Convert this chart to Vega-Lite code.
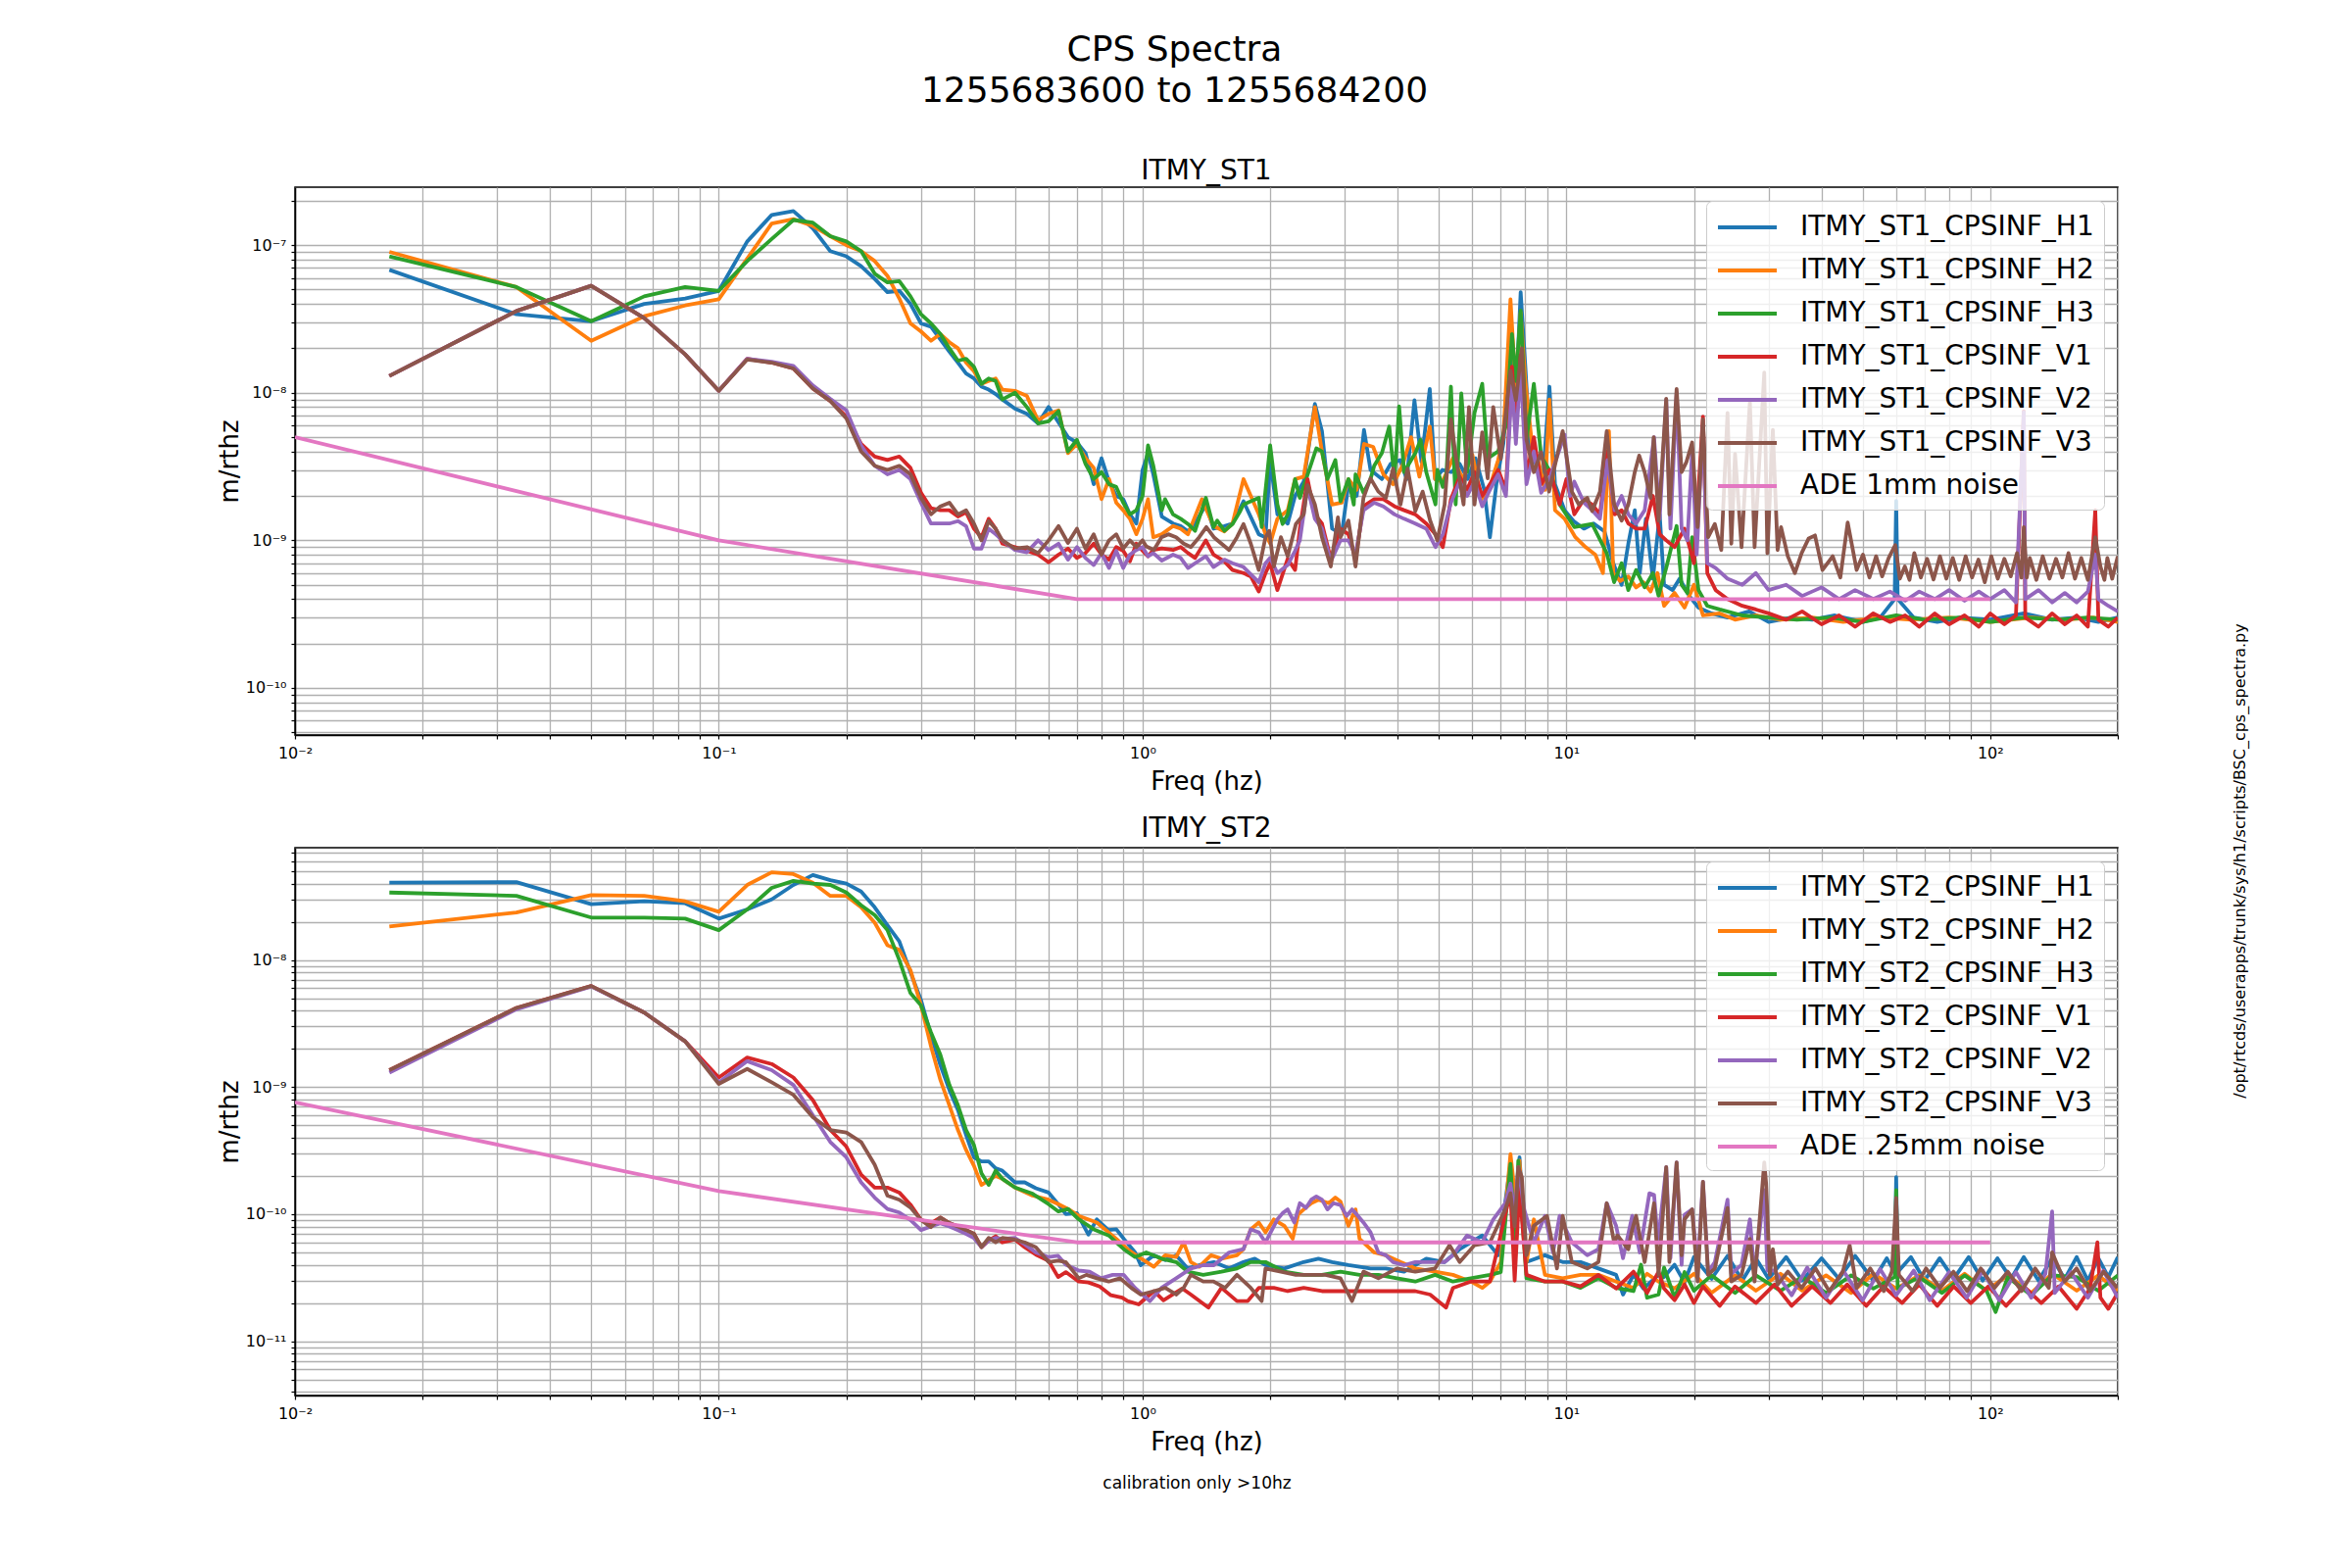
{
"$schema":"https://vega.github.io/schema/vega-lite/v6.json",
"background":"white",
"padding":{"left":220,"top":33,"right":10,"bottom":10},
"config":{
 "font":"DejaVu Sans",
 "view":{"stroke":"black","strokeWidth":1.5},
 "axis":{"domainColor":"black","domainWidth":1.5,"tickColor":"black","tickSize":4,"tickWidth":1.2,"labelColor":"black","labelFontSize":16,"labelFont":"DejaVu Sans","titleFont":"DejaVu Sans","titleFontSize":26,"titleFontWeight":"normal","titleColor":"black","gridColor":"#b0b0b0","gridWidth":1.3,"gridOpacity":1,"labelOverlap":false},
 "legend":{"orient":"top-right","offset":14,"labelFontSize":28,"labelFont":"DejaVu Sans","labelColor":"black","labelLimit":0,"symbolType":"M-1,0H3","symbolSize":900,"symbolStrokeWidth":4,"rowPadding":13,"labelOffset":52,"padding":10,"fillColor":"rgba(255,255,255,0.8)","strokeColor":"#cccccc","cornerRadius":6},
 "title":{"font":"DejaVu Sans","fontWeight":"normal","color":"black"}
},
"title":{"text":["CPS Spectra","1255683600 to 1255684200"],"fontSize":36,"lineHeight":42,"anchor":"middle","offset":48,"dx":-59},
"datasets":{
"st1":[
{"s":"H1","f":0.0167,"v":6.8e-8},{"s":"H1","f":0.0333,"v":3.4e-8},{"s":"H1","f":0.05,"v":3.05e-8},{"s":"H1","f":0.0667,"v":4.0e-8},{"s":"H1","f":0.0833,"v":4.35e-8},{"s":"H1","f":0.1,"v":4.9e-8},{"s":"H1","f":0.1167,"v":1.06e-7},{"s":"H1","f":0.1333,"v":1.6e-7},{"s":"H1","f":0.15,"v":1.7e-7},{"s":"H1","f":0.1667,"v":1.3e-7},{"s":"H1","f":0.1833,"v":9.1e-8},{"s":"H1","f":0.2,"v":8.4e-8},{"s":"H1","f":0.2167,"v":7.2e-8},{"s":"H1","f":0.2333,"v":5.9e-8},{"s":"H1","f":0.25,"v":4.8e-8},{"s":"H1","f":0.2667,"v":4.9e-8},{"s":"H1","f":0.2833,"v":4.0e-8},{"s":"H1","f":0.3,"v":2.95e-8},{"s":"H1","f":0.3167,"v":2.8e-8},{"s":"H1","f":0.3333,"v":2.3e-8},{"s":"H1","f":0.35,"v":1.9e-8},{"s":"H1","f":0.3667,"v":1.6e-8},{"s":"H1","f":0.3833,"v":1.35e-8},{"s":"H1","f":0.4,"v":1.25e-8},{"s":"H1","f":0.4167,"v":1.1e-8},{"s":"H1","f":0.4333,"v":1.05e-8},{"s":"H1","f":0.45,"v":9.8e-9},{"s":"H1","f":0.4667,"v":9.0e-9},{"s":"H1","f":0.5,"v":7.8e-9},{"s":"H1","f":0.5333,"v":7.2e-9},{"s":"H1","f":0.5667,"v":6.2e-9},{"s":"H1","f":0.6,"v":8.0e-9},{"s":"H1","f":0.6333,"v":6.3e-9},{"s":"H1","f":0.6667,"v":5.0e-9},{"s":"H1","f":0.7,"v":4.6e-9},{"s":"H1","f":0.7333,"v":3.9e-9},{"s":"H1","f":0.7667,"v":2.4e-9},{"s":"H1","f":0.8,"v":3.6e-9},{"s":"H1","f":0.8333,"v":2.5e-9},{"s":"H1","f":0.8667,"v":2.0e-9},{"s":"H1","f":0.9,"v":1.9e-9},{"s":"H1","f":0.9333,"v":1.5e-9},{"s":"H1","f":0.9667,"v":1.3e-9},{"s":"H1","f":1.0,"v":3.0e-9},{"s":"H1","f":1.03,"v":3.9e-9},{"s":"H1","f":1.06,"v":2.8e-9},{"s":"H1","f":1.11,"v":1.45e-9},{"s":"H1","f":1.18,"v":1.3e-9},{"s":"H1","f":1.23,"v":1.25e-9},{"s":"H1","f":1.28,"v":1.15e-9},{"s":"H1","f":1.33,"v":1.3e-9},{"s":"H1","f":1.41,"v":1.75e-9},{"s":"H1","f":1.47,"v":1.2e-9},{"s":"H1","f":1.56,"v":1.25e-9},{"s":"H1","f":1.63,"v":1.3e-9},{"s":"H1","f":1.73,"v":1.84e-9},{"s":"H1","f":1.88,"v":1.1e-9},{"s":"H1","f":1.95,"v":1.05e-9},{"s":"H1","f":2.0,"v":3.5e-9},{"s":"H1","f":2.08,"v":1.5e-9},{"s":"H1","f":2.2,"v":1.3e-9},{"s":"H1","f":2.29,"v":2.0e-9},{"s":"H1","f":2.4,"v":2.5e-9},{"s":"H1","f":2.55,"v":8.4e-9},{"s":"H1","f":2.65,"v":5.5e-9},{"s":"H1","f":2.8,"v":1.2e-9},{"s":"H1","f":2.95,"v":1.1e-9},{"s":"H1","f":3.06,"v":2.4e-9},{"s":"H1","f":3.2,"v":2.0e-9},{"s":"H1","f":3.33,"v":5.6e-9},{"s":"H1","f":3.45,"v":3.0e-9},{"s":"H1","f":3.67,"v":2.6e-9},{"s":"H1","f":3.85,"v":3.3e-9},{"s":"H1","f":4.05,"v":3.5e-9},{"s":"H1","f":4.2,"v":2.6e-9},{"s":"H1","f":4.38,"v":8.9e-9},{"s":"H1","f":4.55,"v":3.4e-9},{"s":"H1","f":4.76,"v":1.06e-8},{"s":"H1","f":4.9,"v":2.6e-9},{"s":"H1","f":5.1,"v":3.0e-9},{"s":"H1","f":5.35,"v":2.9e-9},{"s":"H1","f":5.6,"v":3.3e-9},{"s":"H1","f":5.85,"v":2.6e-9},{"s":"H1","f":6.1,"v":3.6e-9},{"s":"H1","f":6.4,"v":2.2e-9},{"s":"H1","f":6.6,"v":1.05e-9},{"s":"H1","f":6.86,"v":2.6e-9},{"s":"H1","f":7.1,"v":4.5e-9},{"s":"H1","f":7.4,"v":2.0e-8},{"s":"H1","f":7.6,"v":9.0e-9},{"s":"H1","f":7.8,"v":4.8e-8},{"s":"H1","f":8.0,"v":1.5e-8},{"s":"H1","f":8.2,"v":4.5e-9},{"s":"H1","f":8.5,"v":3.2e-9},{"s":"H1","f":8.8,"v":2.6e-9},{"s":"H1","f":9.12,"v":1.1e-8},{"s":"H1","f":9.4,"v":2.4e-9},{"s":"H1","f":9.9,"v":1.6e-9},{"s":"H1","f":10.4,"v":1.35e-9},{"s":"H1","f":11.0,"v":1.2e-9},{"s":"H1","f":11.6,"v":1.3e-9},{"s":"H1","f":12.3,"v":1.15e-9},{"s":"H1","f":12.9,"v":7.0e-10},{"s":"H1","f":13.5,"v":5.0e-10},{"s":"H1","f":14.0,"v":9.5e-10},{"s":"H1","f":14.5,"v":1.6e-9},{"s":"H1","f":14.9,"v":6.0e-10},{"s":"H1","f":15.4,"v":1.4e-9},{"s":"H1","f":16.0,"v":5.5e-10},{"s":"H1","f":16.6,"v":1.5e-9},{"s":"H1","f":17.0,"v":5.0e-10},{"s":"H1","f":17.8,"v":4.6e-10},{"s":"H1","f":18.5,"v":5.5e-10},{"s":"H1","f":19.5,"v":4.2e-10},{"s":"H1","f":20.5,"v":3.5e-10},{"s":"H1","f":22,"v":3.2e-10},{"s":"H1","f":24,"v":3.0e-10},{"s":"H1","f":27,"v":3.3e-10},{"s":"H1","f":30,"v":2.8e-10},{"s":"H1","f":34,"v":3.0e-10},{"s":"H1","f":38,"v":2.9e-10},{"s":"H1","f":43,"v":3.1e-10},{"s":"H1","f":50,"v":2.8e-10},{"s":"H1","f":55,"v":3.0e-10},{"s":"H1","f":59.5,"v":4.0e-10},{"s":"H1","f":60,"v":1.85e-9},{"s":"H1","f":60.5,"v":4.0e-10},{"s":"H1","f":66,"v":3.0e-10},{"s":"H1","f":75,"v":2.8e-10},{"s":"H1","f":85,"v":3.0e-10},{"s":"H1","f":100,"v":2.9e-10},{"s":"H1","f":120,"v":3.2e-10},{"s":"H1","f":140,"v":2.9e-10},{"s":"H1","f":160,"v":3.0e-10},{"s":"H1","f":180,"v":2.8e-10},{"s":"H1","f":200,"v":3.0e-10},
{"s":"H2","f":0.0167,"v":9.0e-8},{"s":"H2","f":0.0333,"v":5.2e-8},{"s":"H2","f":0.05,"v":2.25e-8},{"s":"H2","f":0.0667,"v":3.3e-8},{"s":"H2","f":0.0833,"v":3.9e-8},{"s":"H2","f":0.1,"v":4.3e-8},{"s":"H2","f":0.1167,"v":8.1e-8},{"s":"H2","f":0.1333,"v":1.4e-7},{"s":"H2","f":0.15,"v":1.5e-7},{"s":"H2","f":0.1667,"v":1.35e-7},{"s":"H2","f":0.1833,"v":1.15e-7},{"s":"H2","f":0.2,"v":1.0e-7},{"s":"H2","f":0.2167,"v":9.1e-8},{"s":"H2","f":0.2333,"v":7.8e-8},{"s":"H2","f":0.25,"v":6.2e-8},{"s":"H2","f":0.2667,"v":4.35e-8},{"s":"H2","f":0.2833,"v":2.95e-8},{"s":"H2","f":0.3,"v":2.6e-8},{"s":"H2","f":0.3167,"v":2.25e-8},{"s":"H2","f":0.3333,"v":2.5e-8},{"s":"H2","f":0.35,"v":2.2e-8},{"s":"H2","f":0.3667,"v":2.0e-8},{"s":"H2","f":0.3833,"v":1.6e-8},{"s":"H2","f":0.4,"v":1.4e-8},{"s":"H2","f":0.4167,"v":1.15e-8},{"s":"H2","f":0.4333,"v":1.2e-8},{"s":"H2","f":0.45,"v":1.25e-8},{"s":"H2","f":0.4667,"v":1.05e-8},{"s":"H2","f":0.5,"v":1.03e-8},{"s":"H2","f":0.5333,"v":9.5e-9},{"s":"H2","f":0.5667,"v":6.5e-9},{"s":"H2","f":0.6,"v":7.2e-9},{"s":"H2","f":0.6333,"v":7.6e-9},{"s":"H2","f":0.6667,"v":3.9e-9},{"s":"H2","f":0.7,"v":4.5e-9},{"s":"H2","f":0.7333,"v":3.6e-9},{"s":"H2","f":0.7667,"v":3.1e-9},{"s":"H2","f":0.8,"v":1.9e-9},{"s":"H2","f":0.8333,"v":2.6e-9},{"s":"H2","f":0.8667,"v":1.8e-9},{"s":"H2","f":0.9,"v":1.6e-9},{"s":"H2","f":0.9333,"v":1.4e-9},{"s":"H2","f":0.9667,"v":1.1e-9},{"s":"H2","f":1.0,"v":1.4e-9},{"s":"H2","f":1.03,"v":1.9e-9},{"s":"H2","f":1.06,"v":1.05e-9},{"s":"H2","f":1.11,"v":1.1e-9},{"s":"H2","f":1.18,"v":1.25e-9},{"s":"H2","f":1.23,"v":1.2e-9},{"s":"H2","f":1.28,"v":1.1e-9},{"s":"H2","f":1.38,"v":1.9e-9},{"s":"H2","f":1.47,"v":1.25e-9},{"s":"H2","f":1.56,"v":1.15e-9},{"s":"H2","f":1.63,"v":1.3e-9},{"s":"H2","f":1.73,"v":2.6e-9},{"s":"H2","f":1.8,"v":2.0e-9},{"s":"H2","f":1.88,"v":1.5e-9},{"s":"H2","f":1.95,"v":1.1e-9},{"s":"H2","f":2.0,"v":9.5e-10},{"s":"H2","f":2.08,"v":1.4e-9},{"s":"H2","f":2.2,"v":1.6e-9},{"s":"H2","f":2.29,"v":2.6e-9},{"s":"H2","f":2.4,"v":2.7e-9},{"s":"H2","f":2.55,"v":8.0e-9},{"s":"H2","f":2.65,"v":4.0e-9},{"s":"H2","f":2.8,"v":1.75e-9},{"s":"H2","f":2.95,"v":1.8e-9},{"s":"H2","f":3.06,"v":2.6e-9},{"s":"H2","f":3.2,"v":2.2e-9},{"s":"H2","f":3.33,"v":4.5e-9},{"s":"H2","f":3.5,"v":4.3e-9},{"s":"H2","f":3.7,"v":2.8e-9},{"s":"H2","f":3.9,"v":2.4e-9},{"s":"H2","f":4.1,"v":3.2e-9},{"s":"H2","f":4.3,"v":5.0e-9},{"s":"H2","f":4.5,"v":2.7e-9},{"s":"H2","f":4.76,"v":5.9e-9},{"s":"H2","f":4.9,"v":2.6e-9},{"s":"H2","f":5.1,"v":2.5e-9},{"s":"H2","f":5.4,"v":3.6e-9},{"s":"H2","f":5.7,"v":2.6e-9},{"s":"H2","f":6.0,"v":3.8e-9},{"s":"H2","f":6.3,"v":1.9e-9},{"s":"H2","f":6.6,"v":2.3e-9},{"s":"H2","f":6.9,"v":3.5e-9},{"s":"H2","f":7.1,"v":5.0e-9},{"s":"H2","f":7.38,"v":4.3e-8},{"s":"H2","f":7.6,"v":1.0e-8},{"s":"H2","f":7.8,"v":3.5e-8},{"s":"H2","f":8.0,"v":1.2e-8},{"s":"H2","f":8.3,"v":4.4e-9},{"s":"H2","f":8.6,"v":3.4e-9},{"s":"H2","f":8.9,"v":2.2e-9},{"s":"H2","f":9.12,"v":9.0e-9},{"s":"H2","f":9.4,"v":1.6e-9},{"s":"H2","f":9.9,"v":1.4e-9},{"s":"H2","f":10.5,"v":1.05e-9},{"s":"H2","f":11.1,"v":9.0e-10},{"s":"H2","f":11.7,"v":8.0e-10},{"s":"H2","f":12.2,"v":6.0e-10},{"s":"H2","f":12.6,"v":5.5e-9},{"s":"H2","f":12.9,"v":6.0e-10},{"s":"H2","f":13.4,"v":5.3e-10},{"s":"H2","f":14.0,"v":5.7e-10},{"s":"H2","f":14.6,"v":4.8e-10},{"s":"H2","f":15.2,"v":5.2e-10},{"s":"H2","f":15.8,"v":4.5e-10},{"s":"H2","f":16.4,"v":6.0e-10},{"s":"H2","f":17.0,"v":3.6e-10},{"s":"H2","f":18.0,"v":4.4e-10},{"s":"H2","f":19.0,"v":3.5e-10},{"s":"H2","f":20.0,"v":5.0e-10},{"s":"H2","f":21,"v":3.1e-10},{"s":"H2","f":23,"v":3.2e-10},{"s":"H2","f":25,"v":2.9e-10},{"s":"H2","f":28,"v":3.1e-10},{"s":"H2","f":32,"v":2.9e-10},{"s":"H2","f":38,"v":3.0e-10},{"s":"H2","f":45,"v":2.8e-10},{"s":"H2","f":55,"v":3.0e-10},{"s":"H2","f":65,"v":2.9e-10},{"s":"H2","f":80,"v":3.0e-10},{"s":"H2","f":100,"v":2.8e-10},{"s":"H2","f":125,"v":3.0e-10},{"s":"H2","f":150,"v":2.9e-10},{"s":"H2","f":175,"v":3.0e-10},{"s":"H2","f":200,"v":2.8e-10},
{"s":"H3","f":0.0167,"v":8.4e-8},{"s":"H3","f":0.0333,"v":5.2e-8},{"s":"H3","f":0.05,"v":3.05e-8},{"s":"H3","f":0.0667,"v":4.5e-8},{"s":"H3","f":0.0833,"v":5.2e-8},{"s":"H3","f":0.1,"v":4.9e-8},{"s":"H3","f":0.1167,"v":7.8e-8},{"s":"H3","f":0.1333,"v":1.1e-7},{"s":"H3","f":0.15,"v":1.48e-7},{"s":"H3","f":0.1667,"v":1.42e-7},{"s":"H3","f":0.1833,"v":1.15e-7},{"s":"H3","f":0.2,"v":1.06e-7},{"s":"H3","f":0.2167,"v":9.1e-8},{"s":"H3","f":0.2333,"v":6.4e-8},{"s":"H3","f":0.25,"v":5.6e-8},{"s":"H3","f":0.2667,"v":5.7e-8},{"s":"H3","f":0.2833,"v":4.5e-8},{"s":"H3","f":0.3,"v":3.4e-8},{"s":"H3","f":0.3167,"v":2.95e-8},{"s":"H3","f":0.3333,"v":2.5e-8},{"s":"H3","f":0.35,"v":2.0e-8},{"s":"H3","f":0.3667,"v":1.65e-8},{"s":"H3","f":0.3833,"v":1.7e-8},{"s":"H3","f":0.4,"v":1.5e-8},{"s":"H3","f":0.4167,"v":1.15e-8},{"s":"H3","f":0.4333,"v":1.25e-8},{"s":"H3","f":0.45,"v":1.2e-8},{"s":"H3","f":0.4667,"v":9.0e-9},{"s":"H3","f":0.5,"v":1.0e-8},{"s":"H3","f":0.5333,"v":8.0e-9},{"s":"H3","f":0.5667,"v":6.2e-9},{"s":"H3","f":0.6,"v":6.4e-9},{"s":"H3","f":0.6333,"v":7.5e-9},{"s":"H3","f":0.6667,"v":4.0e-9},{"s":"H3","f":0.7,"v":4.8e-9},{"s":"H3","f":0.7333,"v":3.3e-9},{"s":"H3","f":0.7667,"v":2.6e-9},{"s":"H3","f":0.8,"v":2.9e-9},{"s":"H3","f":0.8333,"v":2.4e-9},{"s":"H3","f":0.8667,"v":2.3e-9},{"s":"H3","f":0.9,"v":1.8e-9},{"s":"H3","f":0.9333,"v":1.5e-9},{"s":"H3","f":0.9667,"v":1.6e-9},{"s":"H3","f":1.0,"v":2.0e-9},{"s":"H3","f":1.03,"v":4.4e-9},{"s":"H3","f":1.06,"v":3.2e-9},{"s":"H3","f":1.11,"v":1.6e-9},{"s":"H3","f":1.13,"v":1.9e-9},{"s":"H3","f":1.18,"v":1.5e-9},{"s":"H3","f":1.23,"v":1.4e-9},{"s":"H3","f":1.28,"v":1.29e-9},{"s":"H3","f":1.33,"v":1.16e-9},{"s":"H3","f":1.41,"v":1.94e-9},{"s":"H3","f":1.47,"v":1.23e-9},{"s":"H3","f":1.5,"v":1.36e-9},{"s":"H3","f":1.56,"v":1.16e-9},{"s":"H3","f":1.63,"v":1.29e-9},{"s":"H3","f":1.7,"v":1.58e-9},{"s":"H3","f":1.73,"v":1.75e-9},{"s":"H3","f":1.88,"v":1.94e-9},{"s":"H3","f":1.91,"v":1.23e-9},{"s":"H3","f":2.0,"v":4.4e-9},{"s":"H3","f":2.08,"v":1.75e-9},{"s":"H3","f":2.14,"v":1.29e-9},{"s":"H3","f":2.2,"v":1.5e-9},{"s":"H3","f":2.29,"v":2.6e-9},{"s":"H3","f":2.35,"v":1.94e-9},{"s":"H3","f":2.57,"v":4.2e-9},{"s":"H3","f":2.65,"v":4.0e-9},{"s":"H3","f":2.73,"v":2.6e-9},{"s":"H3","f":2.85,"v":3.5e-9},{"s":"H3","f":2.93,"v":1.84e-9},{"s":"H3","f":3.06,"v":2.6e-9},{"s":"H3","f":3.15,"v":1.75e-9},{"s":"H3","f":3.18,"v":2.8e-9},{"s":"H3","f":3.32,"v":2.1e-9},{"s":"H3","f":3.45,"v":2.6e-9},{"s":"H3","f":3.52,"v":3.2e-9},{"s":"H3","f":3.67,"v":3.9e-9},{"s":"H3","f":3.82,"v":5.9e-9},{"s":"H3","f":3.93,"v":2.6e-9},{"s":"H3","f":4.03,"v":8.1e-9},{"s":"H3","f":4.14,"v":2.9e-9},{"s":"H3","f":4.4,"v":3.9e-9},{"s":"H3","f":4.53,"v":4.8e-9},{"s":"H3","f":4.67,"v":2.9e-9},{"s":"H3","f":4.91,"v":1.75e-9},{"s":"H3","f":4.96,"v":3.0e-9},{"s":"H3","f":5.11,"v":2.3e-9},{"s":"H3","f":5.21,"v":2.8e-9},{"s":"H3","f":5.34,"v":1.1e-8},{"s":"H3","f":5.48,"v":1.75e-9},{"s":"H3","f":5.65,"v":9.9e-9},{"s":"H3","f":5.83,"v":2.9e-9},{"s":"H3","f":6.07,"v":7.3e-9},{"s":"H3","f":6.33,"v":1.15e-8},{"s":"H3","f":6.52,"v":3.6e-9},{"s":"H3","f":6.9,"v":4.0e-9},{"s":"H3","f":7.2,"v":6.0e-9},{"s":"H3","f":7.44,"v":2.5e-8},{"s":"H3","f":7.6,"v":1.2e-8},{"s":"H3","f":7.8,"v":3.6e-8},{"s":"H3","f":8.05,"v":4.8e-9},{"s":"H3","f":8.38,"v":1.15e-8},{"s":"H3","f":8.72,"v":3.7e-9},{"s":"H3","f":9.17,"v":2.9e-9},{"s":"H3","f":9.64,"v":1.75e-9},{"s":"H3","f":10.44,"v":1.23e-9},{"s":"H3","f":11.5,"v":1.29e-9},{"s":"H3","f":12.45,"v":8.2e-10},{"s":"H3","f":12.96,"v":5.2e-10},{"s":"H3","f":13.5,"v":7.0e-10},{"s":"H3","f":14.0,"v":4.6e-10},{"s":"H3","f":14.6,"v":6.3e-10},{"s":"H3","f":15.3,"v":4.8e-10},{"s":"H3","f":16.0,"v":6.0e-10},{"s":"H3","f":16.5,"v":4.2e-10},{"s":"H3","f":17.2,"v":6.5e-10},{"s":"H3","f":18.2,"v":1.25e-9},{"s":"H3","f":18.7,"v":5.0e-10},{"s":"H3","f":19.3,"v":4.4e-10},{"s":"H3","f":19.8,"v":1.05e-9},{"s":"H3","f":20.5,"v":4.6e-10},{"s":"H3","f":21.5,"v":3.6e-10},{"s":"H3","f":23,"v":3.4e-10},{"s":"H3","f":26,"v":3.1e-10},{"s":"H3","f":30,"v":3.0e-10},{"s":"H3","f":35,"v":2.9e-10},{"s":"H3","f":42,"v":3.0e-10},{"s":"H3","f":50,"v":2.8e-10},{"s":"H3","f":60,"v":3.1e-10},{"s":"H3","f":70,"v":2.9e-10},{"s":"H3","f":85,"v":3.0e-10},{"s":"H3","f":100,"v":2.8e-10},{"s":"H3","f":120,"v":3.0e-10},{"s":"H3","f":145,"v":2.9e-10},{"s":"H3","f":170,"v":3.0e-10},{"s":"H3","f":200,"v":2.9e-10},
{"s":"V1","f":0.0167,"v":1.3e-8},{"s":"V1","f":0.0333,"v":3.58e-8},{"s":"V1","f":0.05,"v":5.3e-8},{"s":"V1","f":0.0667,"v":3.2e-8},{"s":"V1","f":0.0833,"v":1.82e-8},{"s":"V1","f":0.1,"v":1.03e-8},{"s":"V1","f":0.1167,"v":1.7e-8},{"s":"V1","f":0.1333,"v":1.6e-8},{"s":"V1","f":0.15,"v":1.46e-8},{"s":"V1","f":0.1667,"v":1.07e-8},{"s":"V1","f":0.1833,"v":8.8e-9},{"s":"V1","f":0.2,"v":6.9e-9},{"s":"V1","f":0.2167,"v":4.5e-9},{"s":"V1","f":0.2333,"v":3.7e-9},{"s":"V1","f":0.25,"v":3.5e-9},{"s":"V1","f":0.2667,"v":3.7e-9},{"s":"V1","f":0.2833,"v":3.1e-9},{"s":"V1","f":0.3,"v":2.1e-9},{"s":"V1","f":0.3167,"v":1.65e-9},{"s":"V1","f":0.3333,"v":1.6e-9},{"s":"V1","f":0.35,"v":1.6e-9},{"s":"V1","f":0.3667,"v":1.45e-9},{"s":"V1","f":0.3833,"v":1.55e-9},{"s":"V1","f":0.4,"v":1.2e-9},{"s":"V1","f":0.4167,"v":1.05e-9},{"s":"V1","f":0.4333,"v":1.4e-9},{"s":"V1","f":0.45,"v":1.2e-9},{"s":"V1","f":0.4667,"v":9.5e-10},{"s":"V1","f":0.5,"v":9.0e-10},{"s":"V1","f":0.5333,"v":8.5e-10},{"s":"V1","f":0.5667,"v":8.0e-10},{"s":"V1","f":0.6,"v":7.1e-10},{"s":"V1","f":0.6333,"v":8.0e-10},{"s":"V1","f":0.6667,"v":8.8e-10},{"s":"V1","f":0.7,"v":7.6e-10},{"s":"V1","f":0.7333,"v":8.2e-10},{"s":"V1","f":0.7667,"v":9.5e-10},{"s":"V1","f":0.8,"v":8.0e-10},{"s":"V1","f":0.8333,"v":7.4e-10},{"s":"V1","f":0.8667,"v":9.0e-10},{"s":"V1","f":0.9,"v":8.5e-10},{"s":"V1","f":0.9333,"v":7.2e-10},{"s":"V1","f":0.9667,"v":9.5e-10},{"s":"V1","f":1.0,"v":8.5e-10},{"s":"V1","f":1.03,"v":7.8e-10},{"s":"V1","f":1.06,"v":8.6e-10},{"s":"V1","f":1.11,"v":8.8e-10},{"s":"V1","f":1.18,"v":8.6e-10},{"s":"V1","f":1.23,"v":9.0e-10},{"s":"V1","f":1.28,"v":8.2e-10},{"s":"V1","f":1.33,"v":7.6e-10},{"s":"V1","f":1.41,"v":1.0e-9},{"s":"V1","f":1.47,"v":8.0e-10},{"s":"V1","f":1.56,"v":7.2e-10},{"s":"V1","f":1.63,"v":6.3e-10},{"s":"V1","f":1.73,"v":6.0e-10},{"s":"V1","f":1.8,"v":5.7e-10},{"s":"V1","f":1.88,"v":4.5e-10},{"s":"V1","f":1.95,"v":6.0e-10},{"s":"V1","f":2.0,"v":7.0e-10},{"s":"V1","f":2.08,"v":4.6e-10},{"s":"V1","f":2.2,"v":7.5e-10},{"s":"V1","f":2.29,"v":6.3e-10},{"s":"V1","f":2.35,"v":1.2e-9},{"s":"V1","f":2.45,"v":2.6e-9},{"s":"V1","f":2.55,"v":1.5e-9},{"s":"V1","f":2.65,"v":1.3e-9},{"s":"V1","f":2.78,"v":7.5e-10},{"s":"V1","f":2.93,"v":1.2e-9},{"s":"V1","f":3.06,"v":1.1e-9},{"s":"V1","f":3.18,"v":7.5e-10},{"s":"V1","f":3.32,"v":1.7e-9},{"s":"V1","f":3.52,"v":1.9e-9},{"s":"V1","f":3.7,"v":1.9e-9},{"s":"V1","f":3.93,"v":1.7e-9},{"s":"V1","f":4.14,"v":1.6e-9},{"s":"V1","f":4.4,"v":1.5e-9},{"s":"V1","f":4.67,"v":1.3e-9},{"s":"V1","f":4.91,"v":1.1e-9},{"s":"V1","f":5.11,"v":9.0e-10},{"s":"V1","f":5.34,"v":1.9e-9},{"s":"V1","f":5.6,"v":2.7e-9},{"s":"V1","f":5.83,"v":2.2e-9},{"s":"V1","f":6.07,"v":2.9e-9},{"s":"V1","f":6.33,"v":2.0e-9},{"s":"V1","f":6.6,"v":2.4e-9},{"s":"V1","f":6.9,"v":3.0e-9},{"s":"V1","f":7.2,"v":2.2e-9},{"s":"V1","f":7.44,"v":1.5e-8},{"s":"V1","f":7.6,"v":5.5e-9},{"s":"V1","f":7.8,"v":1.8e-8},{"s":"V1","f":8.05,"v":2.7e-9},{"s":"V1","f":8.38,"v":5.0e-9},{"s":"V1","f":8.72,"v":2.4e-9},{"s":"V1","f":9.12,"v":3.0e-9},{"s":"V1","f":9.64,"v":1.75e-9},{"s":"V1","f":10.0,"v":2.6e-9},{"s":"V1","f":10.44,"v":1.5e-9},{"s":"V1","f":11.0,"v":1.9e-9},{"s":"V1","f":11.5,"v":1.75e-9},{"s":"V1","f":12.0,"v":1.5e-9},{"s":"V1","f":12.5,"v":4.0e-9},{"s":"V1","f":13.0,"v":1.5e-9},{"s":"V1","f":13.5,"v":1.6e-9},{"s":"V1","f":14.0,"v":1.3e-9},{"s":"V1","f":14.6,"v":1.2e-9},{"s":"V1","f":15.3,"v":1.2e-9},{"s":"V1","f":16.0,"v":2.0e-9},{"s":"V1","f":16.6,"v":1.1e-9},{"s":"V1","f":17.2,"v":1.0e-9},{"s":"V1","f":18.0,"v":9.0e-10},{"s":"V1","f":19.0,"v":1.2e-9},{"s":"V1","f":20.0,"v":7.0e-10},{"s":"V1","f":21.0,"v":6.9e-9},{"s":"V1","f":21.5,"v":6.0e-10},{"s":"V1","f":22.5,"v":4.6e-10},{"s":"V1","f":24,"v":4.0e-10},{"s":"V1","f":26,"v":3.6e-10},{"s":"V1","f":28,"v":3.4e-10},{"s":"V1","f":30,"v":3.2e-10},{"s":"V1","f":33,"v":2.9e-10},{"s":"V1","f":36,"v":3.3e-10},{"s":"V1","f":40,"v":2.7e-10},{"s":"V1","f":44,"v":3.1e-10},{"s":"V1","f":48,"v":2.6e-10},{"s":"V1","f":53,"v":3.2e-10},{"s":"V1","f":58,"v":2.8e-10},{"s":"V1","f":63,"v":3.1e-10},{"s":"V1","f":68,"v":2.6e-10},{"s":"V1","f":74,"v":3.2e-10},{"s":"V1","f":80,"v":2.7e-10},{"s":"V1","f":87,"v":3.1e-10},{"s":"V1","f":94,"v":2.6e-10},{"s":"V1","f":100,"v":3.2e-10},{"s":"V1","f":108,"v":2.7e-10},{"s":"V1","f":115,"v":3.1e-10},{"s":"V1","f":120,"v":7.5e-9},{"s":"V1","f":121,"v":3.0e-10},{"s":"V1","f":130,"v":2.6e-10},{"s":"V1","f":140,"v":3.2e-10},{"s":"V1","f":150,"v":2.7e-10},{"s":"V1","f":160,"v":3.1e-10},{"s":"V1","f":170,"v":2.6e-10},{"s":"V1","f":177,"v":1.6e-9},{"s":"V1","f":180,"v":2.9e-10},{"s":"V1","f":190,"v":2.6e-10},{"s":"V1","f":200,"v":3.0e-10},
{"s":"V2","f":0.0167,"v":1.3e-8},{"s":"V2","f":0.0333,"v":3.58e-8},{"s":"V2","f":0.05,"v":5.3e-8},{"s":"V2","f":0.0667,"v":3.2e-8},{"s":"V2","f":0.0833,"v":1.82e-8},{"s":"V2","f":0.1,"v":1.03e-8},{"s":"V2","f":0.1167,"v":1.7e-8},{"s":"V2","f":0.1333,"v":1.62e-8},{"s":"V2","f":0.15,"v":1.52e-8},{"s":"V2","f":0.1667,"v":1.12e-8},{"s":"V2","f":0.1833,"v":9.1e-9},{"s":"V2","f":0.2,"v":7.6e-9},{"s":"V2","f":0.2167,"v":4.4e-9},{"s":"V2","f":0.2333,"v":3.2e-9},{"s":"V2","f":0.25,"v":2.8e-9},{"s":"V2","f":0.2667,"v":3.0e-9},{"s":"V2","f":0.2833,"v":2.6e-9},{"s":"V2","f":0.3,"v":1.8e-9},{"s":"V2","f":0.3167,"v":1.3e-9},{"s":"V2","f":0.3333,"v":1.3e-9},{"s":"V2","f":0.35,"v":1.3e-9},{"s":"V2","f":0.3667,"v":1.35e-9},{"s":"V2","f":0.3833,"v":1.25e-9},{"s":"V2","f":0.4,"v":8.8e-10},{"s":"V2","f":0.4167,"v":8.8e-10},{"s":"V2","f":0.4333,"v":1.2e-9},{"s":"V2","f":0.45,"v":1.1e-9},{"s":"V2","f":0.4667,"v":1.0e-9},{"s":"V2","f":0.5,"v":8.6e-10},{"s":"V2","f":0.5333,"v":8.3e-10},{"s":"V2","f":0.5667,"v":1.0e-9},{"s":"V2","f":0.6,"v":8.6e-10},{"s":"V2","f":0.6333,"v":9.5e-10},{"s":"V2","f":0.6667,"v":7.4e-10},{"s":"V2","f":0.7,"v":9.0e-10},{"s":"V2","f":0.7333,"v":7.6e-10},{"s":"V2","f":0.7667,"v":6.8e-10},{"s":"V2","f":0.8,"v":8.2e-10},{"s":"V2","f":0.8333,"v":6.5e-10},{"s":"V2","f":0.8667,"v":8.5e-10},{"s":"V2","f":0.9,"v":6.5e-10},{"s":"V2","f":0.9333,"v":8.0e-10},{"s":"V2","f":0.9667,"v":8.6e-10},{"s":"V2","f":1.0,"v":9.0e-10},{"s":"V2","f":1.03,"v":7.8e-10},{"s":"V2","f":1.06,"v":8.2e-10},{"s":"V2","f":1.11,"v":7.3e-10},{"s":"V2","f":1.18,"v":8.0e-10},{"s":"V2","f":1.23,"v":7.6e-10},{"s":"V2","f":1.28,"v":6.5e-10},{"s":"V2","f":1.33,"v":7.0e-10},{"s":"V2","f":1.41,"v":7.8e-10},{"s":"V2","f":1.47,"v":6.6e-10},{"s":"V2","f":1.56,"v":7.4e-10},{"s":"V2","f":1.63,"v":7.0e-10},{"s":"V2","f":1.73,"v":6.6e-10},{"s":"V2","f":1.88,"v":5.2e-10},{"s":"V2","f":1.95,"v":7.0e-10},{"s":"V2","f":2.0,"v":7.6e-10},{"s":"V2","f":2.08,"v":6.0e-10},{"s":"V2","f":2.2,"v":6.8e-10},{"s":"V2","f":2.29,"v":8.5e-10},{"s":"V2","f":2.35,"v":1.0e-9},{"s":"V2","f":2.45,"v":2.3e-9},{"s":"V2","f":2.55,"v":1.4e-9},{"s":"V2","f":2.65,"v":1.2e-9},{"s":"V2","f":2.78,"v":7.2e-10},{"s":"V2","f":2.93,"v":1.0e-9},{"s":"V2","f":3.06,"v":1.0e-9},{"s":"V2","f":3.18,"v":8.0e-10},{"s":"V2","f":3.32,"v":1.6e-9},{"s":"V2","f":3.52,"v":1.8e-9},{"s":"V2","f":3.7,"v":1.7e-9},{"s":"V2","f":3.93,"v":1.5e-9},{"s":"V2","f":4.14,"v":1.4e-9},{"s":"V2","f":4.4,"v":1.3e-9},{"s":"V2","f":4.67,"v":1.2e-9},{"s":"V2","f":4.91,"v":9.0e-10},{"s":"V2","f":5.11,"v":1.1e-9},{"s":"V2","f":5.34,"v":1.8e-9},{"s":"V2","f":5.6,"v":2.5e-9},{"s":"V2","f":5.83,"v":2.0e-9},{"s":"V2","f":6.07,"v":2.5e-9},{"s":"V2","f":6.33,"v":1.7e-9},{"s":"V2","f":6.6,"v":2.2e-9},{"s":"V2","f":6.9,"v":2.8e-9},{"s":"V2","f":7.2,"v":2.0e-9},{"s":"V2","f":7.44,"v":1.2e-8},{"s":"V2","f":7.6,"v":4.5e-9},{"s":"V2","f":7.8,"v":1.5e-8},{"s":"V2","f":8.05,"v":2.4e-9},{"s":"V2","f":8.38,"v":4.0e-9},{"s":"V2","f":8.72,"v":2.1e-9},{"s":"V2","f":9.12,"v":2.6e-9},{"s":"V2","f":9.9,"v":5.2e-9},{"s":"V2","f":10.2,"v":2.0e-9},{"s":"V2","f":10.44,"v":2.5e-9},{"s":"V2","f":11.0,"v":1.8e-9},{"s":"V2","f":11.5,"v":1.6e-9},{"s":"V2","f":12.0,"v":1.4e-9},{"s":"V2","f":12.5,"v":3.5e-9},{"s":"V2","f":13.0,"v":1.6e-9},{"s":"V2","f":13.5,"v":2.0e-9},{"s":"V2","f":14.0,"v":1.5e-9},{"s":"V2","f":14.6,"v":1.3e-9},{"s":"V2","f":15.3,"v":1.6e-9},{"s":"V2","f":16.1,"v":5.0e-9},{"s":"V2","f":16.6,"v":1.4e-9},{"s":"V2","f":17.2,"v":9.0e-9},{"s":"V2","f":17.6,"v":1.2e-9},{"s":"V2","f":18.2,"v":1.0e-8},{"s":"V2","f":18.7,"v":1.2e-9},{"s":"V2","f":19.3,"v":1.0e-9},{"s":"V2","f":19.8,"v":4.0e-9},{"s":"V2","f":20.3,"v":8.0e-10},{"s":"V2","f":21,"v":6.0e-9},{"s":"V2","f":21.5,"v":7.0e-10},{"s":"V2","f":22.5,"v":6.5e-10},{"s":"V2","f":24,"v":5.5e-10},{"s":"V2","f":26,"v":5.0e-10},{"s":"V2","f":28,"v":6.0e-10},{"s":"V2","f":30,"v":4.6e-10},{"s":"V2","f":33,"v":5.0e-10},{"s":"V2","f":36,"v":4.2e-10},{"s":"V2","f":40,"v":4.8e-10},{"s":"V2","f":44,"v":4.0e-10},{"s":"V2","f":48,"v":4.6e-10},{"s":"V2","f":53,"v":4.0e-10},{"s":"V2","f":58,"v":4.5e-10},{"s":"V2","f":63,"v":3.9e-10},{"s":"V2","f":68,"v":4.5e-10},{"s":"V2","f":74,"v":4.0e-10},{"s":"V2","f":80,"v":4.6e-10},{"s":"V2","f":87,"v":3.9e-10},{"s":"V2","f":94,"v":4.5e-10},{"s":"V2","f":100,"v":4.0e-10},{"s":"V2","f":108,"v":4.6e-10},{"s":"V2","f":115,"v":3.8e-10},{"s":"V2","f":120,"v":7.4e-9},{"s":"V2","f":121,"v":4.0e-10},{"s":"V2","f":130,"v":4.6e-10},{"s":"V2","f":140,"v":3.8e-10},{"s":"V2","f":150,"v":4.4e-10},{"s":"V2","f":160,"v":3.8e-10},{"s":"V2","f":170,"v":4.5e-10},{"s":"V2","f":177,"v":8.0e-10},{"s":"V2","f":180,"v":4.0e-10},{"s":"V2","f":190,"v":3.6e-10},{"s":"V2","f":200,"v":3.3e-10},
{"s":"V3","f":0.0167,"v":1.3e-8},{"s":"V3","f":0.0333,"v":3.58e-8},{"s":"V3","f":0.05,"v":5.3e-8},{"s":"V3","f":0.0667,"v":3.2e-8},{"s":"V3","f":0.0833,"v":1.82e-8},{"s":"V3","f":0.1,"v":1.03e-8},{"s":"V3","f":0.1167,"v":1.68e-8},{"s":"V3","f":0.1333,"v":1.6e-8},{"s":"V3","f":0.15,"v":1.46e-8},{"s":"V3","f":0.1667,"v":1.07e-8},{"s":"V3","f":0.1833,"v":8.8e-9},{"s":"V3","f":0.2,"v":6.7e-9},{"s":"V3","f":0.2167,"v":4.0e-9},{"s":"V3","f":0.2333,"v":3.2e-9},{"s":"V3","f":0.25,"v":3.0e-9},{"s":"V3","f":0.2667,"v":3.2e-9},{"s":"V3","f":0.2833,"v":2.8e-9},{"s":"V3","f":0.3,"v":1.94e-9},{"s":"V3","f":0.3167,"v":1.5e-9},{"s":"V3","f":0.3333,"v":1.7e-9},{"s":"V3","f":0.35,"v":1.8e-9},{"s":"V3","f":0.3667,"v":1.5e-9},{"s":"V3","f":0.3833,"v":1.6e-9},{"s":"V3","f":0.4,"v":1.3e-9},{"s":"V3","f":0.4167,"v":1.0e-9},{"s":"V3","f":0.4333,"v":1.35e-9},{"s":"V3","f":0.45,"v":1.2e-9},{"s":"V3","f":0.4667,"v":1.0e-9},{"s":"V3","f":0.5,"v":8.8e-10},{"s":"V3","f":0.5333,"v":9.0e-10},{"s":"V3","f":0.5667,"v":8.2e-10},{"s":"V3","f":0.6,"v":1.0e-9},{"s":"V3","f":0.6333,"v":1.25e-9},{"s":"V3","f":0.6667,"v":9.6e-10},{"s":"V3","f":0.7,"v":1.2e-9},{"s":"V3","f":0.7333,"v":8.8e-10},{"s":"V3","f":0.7667,"v":1.1e-9},{"s":"V3","f":0.8,"v":8.0e-10},{"s":"V3","f":0.8333,"v":1.0e-9},{"s":"V3","f":0.8667,"v":1.1e-9},{"s":"V3","f":0.9,"v":8.8e-10},{"s":"V3","f":0.9333,"v":1.0e-9},{"s":"V3","f":0.9667,"v":9.0e-10},{"s":"V3","f":1.0,"v":1.0e-9},{"s":"V3","f":1.02,"v":9.1e-10},{"s":"V3","f":1.063,"v":8.6e-10},{"s":"V3","f":1.108,"v":1.05e-9},{"s":"V3","f":1.15,"v":1.1e-9},{"s":"V3","f":1.2,"v":1.05e-9},{"s":"V3","f":1.25,"v":9.5e-10},{"s":"V3","f":1.3,"v":9.0e-10},{"s":"V3","f":1.36,"v":1.05e-9},{"s":"V3","f":1.414,"v":1.23e-9},{"s":"V3","f":1.473,"v":1.05e-9},{"s":"V3","f":1.535,"v":9.5e-10},{"s":"V3","f":1.6,"v":8.6e-10},{"s":"V3","f":1.67,"v":1.05e-9},{"s":"V3","f":1.73,"v":1.29e-9},{"s":"V3","f":1.8,"v":9.5e-10},{"s":"V3","f":1.88,"v":6.3e-10},{"s":"V3","f":1.95,"v":1.05e-9},{"s":"V3","f":1.99,"v":1.16e-9},{"s":"V3","f":2.04,"v":6.65e-10},{"s":"V3","f":2.12,"v":1.05e-9},{"s":"V3","f":2.2,"v":7.8e-10},{"s":"V3","f":2.3,"v":1.29e-9},{"s":"V3","f":2.4,"v":1.5e-9},{"s":"V3","f":2.45,"v":2.37e-9},{"s":"V3","f":2.55,"v":1.75e-9},{"s":"V3","f":2.65,"v":1.05e-9},{"s":"V3","f":2.78,"v":6.65e-10},{"s":"V3","f":2.89,"v":1.43e-9},{"s":"V3","f":2.93,"v":1.05e-9},{"s":"V3","f":3.06,"v":1.36e-9},{"s":"V3","f":3.18,"v":6.65e-10},{"s":"V3","f":3.32,"v":1.94e-9},{"s":"V3","f":3.45,"v":2.63e-9},{"s":"V3","f":3.6,"v":2.14e-9},{"s":"V3","f":3.75,"v":1.94e-9},{"s":"V3","f":3.9,"v":3.06e-9},{"s":"V3","f":4.06,"v":1.75e-9},{"s":"V3","f":4.22,"v":3.06e-9},{"s":"V3","f":4.4,"v":1.58e-9},{"s":"V3","f":4.58,"v":2.14e-9},{"s":"V3","f":4.77,"v":1.36e-9},{"s":"V3","f":4.96,"v":1.0e-9},{"s":"V3","f":5.16,"v":1.75e-9},{"s":"V3","f":5.34,"v":6.6e-9},{"s":"V3","f":5.48,"v":3.75e-9},{"s":"V3","f":5.72,"v":1.75e-9},{"s":"V3","f":5.89,"v":8.0e-9},{"s":"V3","f":6.07,"v":1.75e-9},{"s":"V3","f":6.33,"v":5.4e-9},{"s":"V3","f":6.52,"v":2.63e-9},{"s":"V3","f":6.72,"v":8.0e-9},{"s":"V3","f":7.0,"v":3.56e-9},{"s":"V3","f":7.38,"v":1.41e-8},{"s":"V3","f":7.6,"v":8.9e-9},{"s":"V3","f":7.85,"v":2.0e-8},{"s":"V3","f":8.05,"v":4.8e-9},{"s":"V3","f":8.38,"v":2.9e-9},{"s":"V3","f":8.72,"v":3.95e-9},{"s":"V3","f":9.1,"v":2.14e-9},{"s":"V3","f":9.8,"v":5.5e-9},{"s":"V3","f":10.3,"v":2.14e-9},{"s":"V3","f":10.7,"v":1.75e-9},{"s":"V3","f":11.2,"v":1.94e-9},{"s":"V3","f":11.5,"v":1.58e-9},{"s":"V3","f":12.0,"v":2.14e-9},{"s":"V3","f":12.45,"v":5.5e-9},{"s":"V3","f":12.96,"v":1.75e-9},{"s":"V3","f":13.5,"v":1.36e-9},{"s":"V3","f":14.0,"v":1.75e-9},{"s":"V3","f":14.5,"v":2.9e-9},{"s":"V3","f":14.85,"v":3.75e-9},{"s":"V3","f":15.3,"v":2.9e-9},{"s":"V3","f":15.8,"v":1.94e-9},{"s":"V3","f":16.07,"v":5.0e-9},{"s":"V3","f":16.5,"v":1.36e-9},{"s":"V3","f":17.2,"v":9.1e-9},{"s":"V3","f":17.5,"v":1.5e-9},{"s":"V3","f":18.2,"v":1.06e-8},{"s":"V3","f":18.7,"v":2.9e-9},{"s":"V3","f":19.2,"v":3.4e-9},{"s":"V3","f":19.8,"v":4.6e-9},{"s":"V3","f":20.4,"v":1.23e-9},{"s":"V3","f":21.0,"v":6.6e-9},{"s":"V3","f":21.6,"v":1.05e-9},{"s":"V3","f":22.4,"v":1.29e-9},{"s":"V3","f":23.2,"v":8.6e-10},{"s":"V3","f":24.0,"v":7.3e-9},{"s":"V3","f":24.5,"v":9.5e-10},{"s":"V3","f":25.0,"v":3.85e-9},{"s":"V3","f":25.9,"v":9.0e-10},{"s":"V3","f":27.1,"v":8.7e-9},{"s":"V3","f":27.8,"v":9.0e-10},{"s":"V3","f":29.3,"v":1.37e-8},{"s":"V3","f":29.8,"v":8.2e-10},{"s":"V3","f":30.7,"v":5.6e-9},{"s":"V3","f":31.5,"v":8.6e-10},{"s":"V3","f":32.1,"v":1.23e-9},{"s":"V3","f":33.3,"v":7.8e-10},{"s":"V3","f":34.6,"v":6.0e-10},{"s":"V3","f":35.9,"v":8.2e-10},{"s":"V3","f":37.3,"v":1.03e-9},{"s":"V3","f":38.6,"v":1.08e-9},{"s":"V3","f":40.2,"v":6.3e-10},{"s":"V3","f":42.5,"v":7.8e-10},{"s":"V3","f":44.3,"v":5.6e-10},{"s":"V3","f":46.1,"v":1.32e-9},{"s":"V3","f":48.4,"v":6.3e-10},{"s":"V3","f":50.1,"v":8.0e-10},{"s":"V3","f":51.9,"v":5.6e-10},{"s":"V3","f":53.8,"v":7.8e-10},{"s":"V3","f":55.6,"v":5.7e-10},{"s":"V3","f":57.6,"v":7.6e-10},{"s":"V3","f":59.7,"v":9.3e-10},{"s":"V3","f":61.2,"v":5.5e-10},{"s":"V3","f":62.9,"v":6.65e-10},{"s":"V3","f":64.5,"v":5.4e-10},{"s":"V3","f":66.2,"v":8.2e-10},{"s":"V3","f":68.6,"v":5.6e-10},{"s":"V3","f":71.0,"v":7.5e-10},{"s":"V3","f":73.5,"v":5.43e-10},{"s":"V3","f":76.1,"v":7.8e-10},{"s":"V3","f":78.8,"v":5.5e-10},{"s":"V3","f":81.6,"v":7.6e-10},{"s":"V3","f":84.5,"v":5.4e-10},{"s":"V3","f":87.5,"v":7.8e-10},{"s":"V3","f":90.6,"v":5.6e-10},{"s":"V3","f":93.8,"v":7.4e-10},{"s":"V3","f":97.1,"v":5.2e-10},{"s":"V3","f":100.6,"v":7.8e-10},{"s":"V3","f":104.2,"v":5.5e-10},{"s":"V3","f":108,"v":7.5e-10},{"s":"V3","f":111.8,"v":5.7e-10},{"s":"V3","f":115.7,"v":8.2e-10},{"s":"V3","f":118.5,"v":5.6e-10},{"s":"V3","f":120,"v":1.23e-9},{"s":"V3","f":122,"v":5.6e-10},{"s":"V3","f":124,"v":7.6e-10},{"s":"V3","f":128.5,"v":5.4e-10},{"s":"V3","f":133,"v":7.8e-10},{"s":"V3","f":138,"v":5.5e-10},{"s":"V3","f":143,"v":7.5e-10},{"s":"V3","f":148,"v":5.6e-10},{"s":"V3","f":153,"v":8.2e-10},{"s":"V3","f":158.5,"v":5.5e-10},{"s":"V3","f":164,"v":7.6e-10},{"s":"V3","f":170,"v":5.4e-10},{"s":"V3","f":177,"v":1.05e-9},{"s":"V3","f":182,"v":6.65e-10},{"s":"V3","f":186,"v":5.4e-10},{"s":"V3","f":189,"v":7.6e-10},{"s":"V3","f":194,"v":5.5e-10},{"s":"V3","f":200,"v":7.8e-10},
{"s":"ADE","f":0.01,"v":5.0e-9},{"s":"ADE","f":0.1,"v":1.0e-9},{"s":"ADE","f":0.7,"v":4.0e-10},{"s":"ADE","f":100,"v":4.0e-10}
],
"st2":[
{"s":"H1","f":0.0167,"v":4.07e-8},{"s":"H1","f":0.0333,"v":4.1e-8},{"s":"H1","f":0.05,"v":2.75e-8},{"s":"H1","f":0.0667,"v":2.9e-8},{"s":"H1","f":0.0833,"v":2.8e-8},{"s":"H1","f":0.1,"v":2.12e-8},{"s":"H1","f":0.1167,"v":2.5e-8},{"s":"H1","f":0.1333,"v":3.0e-8},{"s":"H1","f":0.15,"v":3.9e-8},{"s":"H1","f":0.1667,"v":4.67e-8},{"s":"H1","f":0.1833,"v":4.25e-8},{"s":"H1","f":0.2,"v":4.0e-8},{"s":"H1","f":0.2167,"v":3.46e-8},{"s":"H1","f":0.2333,"v":2.6e-8},{"s":"H1","f":0.25,"v":1.88e-8},{"s":"H1","f":0.2667,"v":1.4e-8},{"s":"H1","f":0.2833,"v":8.0e-9},{"s":"H1","f":0.3,"v":4.84e-9},{"s":"H1","f":0.3167,"v":2.57e-9},{"s":"H1","f":0.3333,"v":1.49e-9},{"s":"H1","f":0.35,"v":9.5e-10},{"s":"H1","f":0.3667,"v":6.6e-10},{"s":"H1","f":0.3833,"v":4.2e-10},{"s":"H1","f":0.4,"v":2.8e-10},{"s":"H1","f":0.4167,"v":2.6e-10},{"s":"H1","f":0.4333,"v":2.6e-10},{"s":"H1","f":0.45,"v":2.3e-10},{"s":"H1","f":0.4667,"v":2.2e-10},{"s":"H1","f":0.5,"v":1.78e-10},{"s":"H1","f":0.527,"v":1.78e-10},{"s":"H1","f":0.56,"v":1.6e-10},{"s":"H1","f":0.6,"v":1.48e-10},{"s":"H1","f":0.632,"v":1.2e-10},{"s":"H1","f":0.659,"v":1.0e-10},{"s":"H1","f":0.7,"v":1.02e-10},{"s":"H1","f":0.745,"v":6.9e-11},{"s":"H1","f":0.78,"v":9.1e-11},{"s":"H1","f":0.83,"v":7.5e-11},{"s":"H1","f":0.867,"v":7.6e-11},{"s":"H1","f":0.903,"v":6.4e-11},{"s":"H1","f":0.96,"v":5.0e-11},{"s":"H1","f":0.99,"v":3.97e-11},{"s":"H1","f":1.063,"v":4.75e-11},{"s":"H1","f":1.131,"v":4.35e-11},{"s":"H1","f":1.2,"v":4.75e-11},{"s":"H1","f":1.277,"v":3.74e-11},{"s":"H1","f":1.36,"v":3.97e-11},{"s":"H1","f":1.473,"v":4.2e-11},{"s":"H1","f":1.6,"v":3.74e-11},{"s":"H1","f":1.73,"v":4.2e-11},{"s":"H1","f":1.84,"v":4.47e-11},{"s":"H1","f":1.95,"v":3.97e-11},{"s":"H1","f":2.16,"v":3.74e-11},{"s":"H1","f":2.4,"v":4.2e-11},{"s":"H1","f":2.6,"v":4.47e-11},{"s":"H1","f":2.8,"v":4.2e-11},{"s":"H1","f":3.06,"v":3.97e-11},{"s":"H1","f":3.45,"v":3.74e-11},{"s":"H1","f":3.75,"v":3.74e-11},{"s":"H1","f":4.14,"v":3.53e-11},{"s":"H1","f":4.67,"v":4.47e-11},{"s":"H1","f":5.16,"v":4.2e-11},{"s":"H1","f":5.6,"v":5.3e-11},{"s":"H1","f":6.33,"v":6.8e-11},{"s":"H1","f":6.9,"v":4.75e-11},{"s":"H1","f":7.38,"v":2.5e-10},{"s":"H1","f":7.55,"v":5.0e-11},{"s":"H1","f":7.75,"v":2.8e-10},{"s":"H1","f":8.05,"v":4.2e-11},{"s":"H1","f":8.9,"v":4.75e-11},{"s":"H1","f":9.8,"v":4.2e-11},{"s":"H1","f":10.8,"v":4.2e-11},{"s":"H1","f":11.9,"v":3.74e-11},{"s":"H1","f":13.1,"v":3.33e-11},{"s":"H1","f":13.6,"v":2.33e-11},{"s":"H1","f":14.4,"v":3.33e-11},{"s":"H1","f":15.2,"v":2.6e-11},{"s":"H1","f":16.5,"v":3.33e-11},{"s":"H1","f":17,"v":3.2e-11},{"s":"H1","f":18,"v":4.0e-11},{"s":"H1","f":19,"v":2.9e-11},{"s":"H1","f":20,"v":4.6e-11},{"s":"H1","f":22,"v":3.1e-11},{"s":"H1","f":24,"v":4.7e-11},{"s":"H1","f":26,"v":3.0e-11},{"s":"H1","f":28,"v":4.5e-11},{"s":"H1","f":30,"v":3.1e-11},{"s":"H1","f":33,"v":4.6e-11},{"s":"H1","f":36,"v":3.0e-11},{"s":"H1","f":40,"v":4.5e-11},{"s":"H1","f":44,"v":3.1e-11},{"s":"H1","f":48,"v":4.7e-11},{"s":"H1","f":53,"v":3.0e-11},{"s":"H1","f":57,"v":4.5e-11},{"s":"H1","f":59.5,"v":3.5e-11},{"s":"H1","f":60,"v":1.96e-10},{"s":"H1","f":60.5,"v":3.5e-11},{"s":"H1","f":65,"v":4.6e-11},{"s":"H1","f":70,"v":3.0e-11},{"s":"H1","f":76,"v":4.5e-11},{"s":"H1","f":82,"v":3.1e-11},{"s":"H1","f":89,"v":4.6e-11},{"s":"H1","f":96,"v":3.0e-11},{"s":"H1","f":104,"v":4.5e-11},{"s":"H1","f":112,"v":3.1e-11},{"s":"H1","f":120,"v":4.6e-11},{"s":"H1","f":130,"v":3.0e-11},{"s":"H1","f":140,"v":4.5e-11},{"s":"H1","f":150,"v":3.1e-11},{"s":"H1","f":160,"v":4.6e-11},{"s":"H1","f":170,"v":3.0e-11},{"s":"H1","f":180,"v":4.5e-11},{"s":"H1","f":190,"v":3.2e-11},{"s":"H1","f":200,"v":4.6e-11},
{"s":"H2","f":0.0167,"v":1.84e-8},{"s":"H2","f":0.0333,"v":2.37e-8},{"s":"H2","f":0.05,"v":3.24e-8},{"s":"H2","f":0.0667,"v":3.2e-8},{"s":"H2","f":0.0833,"v":2.9e-8},{"s":"H2","f":0.1,"v":2.4e-8},{"s":"H2","f":0.1167,"v":3.9e-8},{"s":"H2","f":0.1333,"v":4.9e-8},{"s":"H2","f":0.15,"v":4.75e-8},{"s":"H2","f":0.1667,"v":4.06e-8},{"s":"H2","f":0.1833,"v":3.2e-8},{"s":"H2","f":0.2,"v":3.2e-8},{"s":"H2","f":0.2167,"v":2.6e-8},{"s":"H2","f":0.2333,"v":1.97e-8},{"s":"H2","f":0.25,"v":1.31e-8},{"s":"H2","f":0.2667,"v":1.2e-8},{"s":"H2","f":0.2833,"v":8.35e-9},{"s":"H2","f":0.3,"v":4.4e-9},{"s":"H2","f":0.3167,"v":2.1e-9},{"s":"H2","f":0.3333,"v":1.14e-9},{"s":"H2","f":0.35,"v":7.2e-10},{"s":"H2","f":0.3667,"v":4.6e-10},{"s":"H2","f":0.3833,"v":3.2e-10},{"s":"H2","f":0.4,"v":2.4e-10},{"s":"H2","f":0.4167,"v":1.7e-10},{"s":"H2","f":0.4333,"v":1.85e-10},{"s":"H2","f":0.45,"v":2.0e-10},{"s":"H2","f":0.4667,"v":1.9e-10},{"s":"H2","f":0.5,"v":1.62e-10},{"s":"H2","f":0.55,"v":1.4e-10},{"s":"H2","f":0.6,"v":1.3e-10},{"s":"H2","f":0.633,"v":1.2e-10},{"s":"H2","f":0.667,"v":1.1e-10},{"s":"H2","f":0.707,"v":9.7e-11},{"s":"H2","f":0.78,"v":8.6e-11},{"s":"H2","f":0.867,"v":6.4e-11},{"s":"H2","f":0.922,"v":5.3e-11},{"s":"H2","f":0.979,"v":4.6e-11},{"s":"H2","f":1.063,"v":3.86e-11},{"s":"H2","f":1.131,"v":4.75e-11},{"s":"H2","f":1.2,"v":4.6e-11},{"s":"H2","f":1.25,"v":6.0e-11},{"s":"H2","f":1.3,"v":4.2e-11},{"s":"H2","f":1.36,"v":3.86e-11},{"s":"H2","f":1.45,"v":4.75e-11},{"s":"H2","f":1.535,"v":4.47e-11},{"s":"H2","f":1.67,"v":4.75e-11},{"s":"H2","f":1.73,"v":5.3e-11},{"s":"H2","f":1.8,"v":7.6e-11},{"s":"H2","f":1.88,"v":8.6e-11},{"s":"H2","f":1.95,"v":7.2e-11},{"s":"H2","f":2.04,"v":9.1e-11},{"s":"H2","f":2.16,"v":8.1e-11},{"s":"H2","f":2.26,"v":6.4e-11},{"s":"H2","f":2.33,"v":1.0e-10},{"s":"H2","f":2.4,"v":1.09e-10},{"s":"H2","f":2.5,"v":1.22e-10},{"s":"H2","f":2.6,"v":1.3e-10},{"s":"H2","f":2.75,"v":1.22e-10},{"s":"H2","f":2.85,"v":1.35e-10},{"s":"H2","f":2.93,"v":1.26e-10},{"s":"H2","f":3.06,"v":8.1e-11},{"s":"H2","f":3.18,"v":1.09e-10},{"s":"H2","f":3.25,"v":6.4e-11},{"s":"H2","f":3.52,"v":5.0e-11},{"s":"H2","f":3.75,"v":4.75e-11},{"s":"H2","f":4.06,"v":4.2e-11},{"s":"H2","f":4.4,"v":3.74e-11},{"s":"H2","f":4.9,"v":3.53e-11},{"s":"H2","f":5.4,"v":3.33e-11},{"s":"H2","f":5.95,"v":2.95e-11},{"s":"H2","f":6.33,"v":2.63e-11},{"s":"H2","f":6.6,"v":2.95e-11},{"s":"H2","f":7.0,"v":4.2e-11},{"s":"H2","f":7.38,"v":2.97e-10},{"s":"H2","f":7.6,"v":1.22e-10},{"s":"H2","f":7.75,"v":2.64e-10},{"s":"H2","f":8.05,"v":4.2e-11},{"s":"H2","f":8.38,"v":9.1e-11},{"s":"H2","f":8.9,"v":3.33e-11},{"s":"H2","f":9.8,"v":3.13e-11},{"s":"H2","f":10.8,"v":3.33e-11},{"s":"H2","f":11.9,"v":3.33e-11},{"s":"H2","f":13.1,"v":2.95e-11},{"s":"H2","f":14.4,"v":2.63e-11},{"s":"H2","f":15.5,"v":3.4e-11},{"s":"H2","f":16.5,"v":2.95e-11},{"s":"H2","f":18,"v":2.6e-11},{"s":"H2","f":20,"v":3.4e-11},{"s":"H2","f":22,"v":2.4e-11},{"s":"H2","f":25,"v":3.3e-11},{"s":"H2","f":28,"v":2.5e-11},{"s":"H2","f":32,"v":3.4e-11},{"s":"H2","f":36,"v":2.5e-11},{"s":"H2","f":41,"v":3.3e-11},{"s":"H2","f":47,"v":2.4e-11},{"s":"H2","f":53,"v":3.4e-11},{"s":"H2","f":60,"v":2.6e-11},{"s":"H2","f":68,"v":3.3e-11},{"s":"H2","f":77,"v":2.5e-11},{"s":"H2","f":87,"v":3.4e-11},{"s":"H2","f":98,"v":2.5e-11},{"s":"H2","f":110,"v":3.3e-11},{"s":"H2","f":125,"v":2.4e-11},{"s":"H2","f":140,"v":3.4e-11},{"s":"H2","f":160,"v":2.5e-11},{"s":"H2","f":180,"v":3.3e-11},{"s":"H2","f":200,"v":2.5e-11},
{"s":"H3","f":0.0167,"v":3.4e-8},{"s":"H3","f":0.0333,"v":3.2e-8},{"s":"H3","f":0.05,"v":2.16e-8},{"s":"H3","f":0.0667,"v":2.16e-8},{"s":"H3","f":0.0833,"v":2.12e-8},{"s":"H3","f":0.1,"v":1.72e-8},{"s":"H3","f":0.1167,"v":2.5e-8},{"s":"H3","f":0.1333,"v":3.7e-8},{"s":"H3","f":0.15,"v":4.2e-8},{"s":"H3","f":0.1667,"v":4.0e-8},{"s":"H3","f":0.1833,"v":3.9e-8},{"s":"H3","f":0.2,"v":3.4e-8},{"s":"H3","f":0.2167,"v":2.7e-8},{"s":"H3","f":0.2333,"v":2.26e-8},{"s":"H3","f":0.25,"v":1.72e-8},{"s":"H3","f":0.2667,"v":1.0e-8},{"s":"H3","f":0.2833,"v":5.5e-9},{"s":"H3","f":0.3,"v":4.4e-9},{"s":"H3","f":0.3167,"v":2.7e-9},{"s":"H3","f":0.3333,"v":1.8e-9},{"s":"H3","f":0.35,"v":1.04e-9},{"s":"H3","f":0.3667,"v":7.2e-10},{"s":"H3","f":0.3833,"v":4.6e-10},{"s":"H3","f":0.4,"v":3.5e-10},{"s":"H3","f":0.4167,"v":2.1e-10},{"s":"H3","f":0.4333,"v":1.7e-10},{"s":"H3","f":0.45,"v":2.2e-10},{"s":"H3","f":0.4667,"v":1.9e-10},{"s":"H3","f":0.5,"v":1.62e-10},{"s":"H3","f":0.55,"v":1.45e-10},{"s":"H3","f":0.6,"v":1.2e-10},{"s":"H3","f":0.633,"v":1.05e-10},{"s":"H3","f":0.667,"v":1.1e-10},{"s":"H3","f":0.707,"v":9.1e-11},{"s":"H3","f":0.767,"v":7.6e-11},{"s":"H3","f":0.832,"v":6.8e-11},{"s":"H3","f":0.903,"v":5.3e-11},{"s":"H3","f":0.96,"v":4.6e-11},{"s":"H3","f":1.02,"v":5.0e-11},{"s":"H3","f":1.108,"v":4.47e-11},{"s":"H3","f":1.2,"v":4.2e-11},{"s":"H3","f":1.277,"v":3.53e-11},{"s":"H3","f":1.39,"v":3.33e-11},{"s":"H3","f":1.535,"v":3.53e-11},{"s":"H3","f":1.67,"v":3.74e-11},{"s":"H3","f":1.8,"v":4.2e-11},{"s":"H3","f":1.95,"v":4.2e-11},{"s":"H3","f":2.16,"v":3.53e-11},{"s":"H3","f":2.4,"v":3.33e-11},{"s":"H3","f":2.65,"v":3.33e-11},{"s":"H3","f":2.93,"v":3.53e-11},{"s":"H3","f":3.25,"v":3.33e-11},{"s":"H3","f":3.6,"v":3.33e-11},{"s":"H3","f":3.98,"v":3.13e-11},{"s":"H3","f":4.4,"v":2.95e-11},{"s":"H3","f":4.9,"v":3.33e-11},{"s":"H3","f":5.4,"v":2.95e-11},{"s":"H3","f":5.95,"v":3.13e-11},{"s":"H3","f":6.6,"v":3.33e-11},{"s":"H3","f":7.0,"v":3.5e-11},{"s":"H3","f":7.38,"v":2.49e-10},{"s":"H3","f":7.55,"v":6.0e-11},{"s":"H3","f":7.7,"v":2.64e-10},{"s":"H3","f":8.05,"v":3.13e-11},{"s":"H3","f":8.9,"v":2.95e-11},{"s":"H3","f":9.8,"v":2.95e-11},{"s":"H3","f":10.8,"v":2.63e-11},{"s":"H3","f":11.9,"v":3.13e-11},{"s":"H3","f":13.1,"v":2.63e-11},{"s":"H3","f":14.4,"v":2.48e-11},{"s":"H3","f":15.0,"v":4.0e-11},{"s":"H3","f":15.5,"v":2.2e-11},{"s":"H3","f":16.5,"v":2.33e-11},{"s":"H3","f":17,"v":3.8e-11},{"s":"H3","f":18,"v":2.2e-11},{"s":"H3","f":19,"v":3.5e-11},{"s":"H3","f":20,"v":2.5e-11},{"s":"H3","f":22,"v":3.3e-11},{"s":"H3","f":25,"v":2.4e-11},{"s":"H3","f":28,"v":3.3e-11},{"s":"H3","f":32,"v":2.5e-11},{"s":"H3","f":36,"v":3.2e-11},{"s":"H3","f":41,"v":2.4e-11},{"s":"H3","f":47,"v":3.3e-11},{"s":"H3","f":53,"v":2.6e-11},{"s":"H3","f":59.5,"v":3.2e-11},{"s":"H3","f":60,"v":1.55e-10},{"s":"H3","f":60.5,"v":2.6e-11},{"s":"H3","f":68,"v":3.2e-11},{"s":"H3","f":77,"v":2.4e-11},{"s":"H3","f":87,"v":3.3e-11},{"s":"H3","f":98,"v":2.5e-11},{"s":"H3","f":103,"v":1.7e-11},{"s":"H3","f":110,"v":3.2e-11},{"s":"H3","f":125,"v":2.3e-11},{"s":"H3","f":140,"v":3.3e-11},{"s":"H3","f":160,"v":3.2e-11},{"s":"H3","f":180,"v":2.5e-11},{"s":"H3","f":200,"v":3.3e-11},
{"s":"V1","f":0.0167,"v":1.36e-9},{"s":"V1","f":0.0333,"v":4.2e-9},{"s":"V1","f":0.05,"v":6.25e-9},{"s":"V1","f":0.0667,"v":3.86e-9},{"s":"V1","f":0.0833,"v":2.29e-9},{"s":"V1","f":0.1,"v":1.19e-9},{"s":"V1","f":0.1167,"v":1.71e-9},{"s":"V1","f":0.1333,"v":1.52e-9},{"s":"V1","f":0.15,"v":1.19e-9},{"s":"V1","f":0.1667,"v":7.9e-10},{"s":"V1","f":0.1833,"v":4.6e-10},{"s":"V1","f":0.2,"v":3.4e-10},{"s":"V1","f":0.2167,"v":2.05e-10},{"s":"V1","f":0.2333,"v":1.62e-10},{"s":"V1","f":0.25,"v":1.62e-10},{"s":"V1","f":0.2667,"v":1.48e-10},{"s":"V1","f":0.2833,"v":1.19e-10},{"s":"V1","f":0.3,"v":9.0e-11},{"s":"V1","f":0.3167,"v":8.5e-11},{"s":"V1","f":0.3333,"v":9.4e-11},{"s":"V1","f":0.35,"v":8.5e-11},{"s":"V1","f":0.3667,"v":8.0e-11},{"s":"V1","f":0.3833,"v":7.5e-11},{"s":"V1","f":0.4,"v":7.0e-11},{"s":"V1","f":0.4167,"v":5.5e-11},{"s":"V1","f":0.4333,"v":6.2e-11},{"s":"V1","f":0.45,"v":6.7e-11},{"s":"V1","f":0.4667,"v":6.0e-11},{"s":"V1","f":0.5,"v":6.3e-11},{"s":"V1","f":0.527,"v":5.5e-11},{"s":"V1","f":0.56,"v":4.8e-11},{"s":"V1","f":0.6,"v":4.3e-11},{"s":"V1","f":0.632,"v":3.2e-11},{"s":"V1","f":0.659,"v":3.5e-11},{"s":"V1","f":0.707,"v":2.95e-11},{"s":"V1","f":0.745,"v":2.9e-11},{"s":"V1","f":0.792,"v":2.7e-11},{"s":"V1","f":0.842,"v":2.3e-11},{"s":"V1","f":0.895,"v":2.2e-11},{"s":"V1","f":0.922,"v":2.07e-11},{"s":"V1","f":0.979,"v":1.95e-11},{"s":"V1","f":1.063,"v":2.48e-11},{"s":"V1","f":1.12,"v":2.1e-11},{"s":"V1","f":1.178,"v":2.33e-11},{"s":"V1","f":1.24,"v":2.6e-11},{"s":"V1","f":1.3,"v":2.33e-11},{"s":"V1","f":1.43,"v":1.84e-11},{"s":"V1","f":1.535,"v":2.63e-11},{"s":"V1","f":1.67,"v":2.07e-11},{"s":"V1","f":1.77,"v":2.07e-11},{"s":"V1","f":1.88,"v":2.63e-11},{"s":"V1","f":2.04,"v":2.63e-11},{"s":"V1","f":2.2,"v":2.48e-11},{"s":"V1","f":2.4,"v":2.63e-11},{"s":"V1","f":2.65,"v":2.48e-11},{"s":"V1","f":2.93,"v":2.48e-11},{"s":"V1","f":3.25,"v":2.48e-11},{"s":"V1","f":3.6,"v":2.48e-11},{"s":"V1","f":3.98,"v":2.48e-11},{"s":"V1","f":4.4,"v":2.48e-11},{"s":"V1","f":4.77,"v":2.33e-11},{"s":"V1","f":5.2,"v":1.84e-11},{"s":"V1","f":5.4,"v":2.63e-11},{"s":"V1","f":5.95,"v":2.95e-11},{"s":"V1","f":6.6,"v":2.95e-11},{"s":"V1","f":7.38,"v":1.5e-10},{"s":"V1","f":7.55,"v":3.0e-11},{"s":"V1","f":7.75,"v":1.6e-10},{"s":"V1","f":8.05,"v":3.33e-11},{"s":"V1","f":8.9,"v":2.95e-11},{"s":"V1","f":9.8,"v":2.95e-11},{"s":"V1","f":10.8,"v":2.7e-11},{"s":"V1","f":11.9,"v":3.33e-11},{"s":"V1","f":13.1,"v":2.6e-11},{"s":"V1","f":14.4,"v":3.53e-11},{"s":"V1","f":15.5,"v":2.4e-11},{"s":"V1","f":16.5,"v":3.53e-11},{"s":"V1","f":17,"v":2.6e-11},{"s":"V1","f":18,"v":2.1e-11},{"s":"V1","f":19,"v":2.8e-11},{"s":"V1","f":20,"v":2.0e-11},{"s":"V1","f":21,"v":2.7e-11},{"s":"V1","f":23,"v":1.9e-11},{"s":"V1","f":25,"v":2.7e-11},{"s":"V1","f":28,"v":2.0e-11},{"s":"V1","f":31,"v":2.8e-11},{"s":"V1","f":34,"v":1.9e-11},{"s":"V1","f":38,"v":2.7e-11},{"s":"V1","f":42,"v":2.0e-11},{"s":"V1","f":46,"v":2.8e-11},{"s":"V1","f":51,"v":1.9e-11},{"s":"V1","f":56,"v":2.7e-11},{"s":"V1","f":62,"v":2.0e-11},{"s":"V1","f":68,"v":2.8e-11},{"s":"V1","f":75,"v":1.9e-11},{"s":"V1","f":82,"v":2.7e-11},{"s":"V1","f":90,"v":2.0e-11},{"s":"V1","f":99,"v":2.7e-11},{"s":"V1","f":109,"v":1.9e-11},{"s":"V1","f":120,"v":2.7e-11},{"s":"V1","f":132,"v":2.0e-11},{"s":"V1","f":145,"v":2.7e-11},{"s":"V1","f":160,"v":1.8e-11},{"s":"V1","f":172,"v":2.6e-11},{"s":"V1","f":179,"v":6.0e-11},{"s":"V1","f":182,"v":2.2e-11},{"s":"V1","f":190,"v":1.8e-11},{"s":"V1","f":200,"v":2.4e-11},
{"s":"V2","f":0.0167,"v":1.3e-9},{"s":"V2","f":0.0333,"v":4.1e-9},{"s":"V2","f":0.05,"v":6.2e-9},{"s":"V2","f":0.0667,"v":3.86e-9},{"s":"V2","f":0.0833,"v":2.29e-9},{"s":"V2","f":0.1,"v":1.09e-9},{"s":"V2","f":0.1167,"v":1.6e-9},{"s":"V2","f":0.1333,"v":1.36e-9},{"s":"V2","f":0.15,"v":1.04e-9},{"s":"V2","f":0.1667,"v":6.0e-10},{"s":"V2","f":0.1833,"v":3.7e-10},{"s":"V2","f":0.2,"v":2.8e-10},{"s":"V2","f":0.2167,"v":1.78e-10},{"s":"V2","f":0.2333,"v":1.35e-10},{"s":"V2","f":0.25,"v":1.1e-10},{"s":"V2","f":0.2667,"v":1.03e-10},{"s":"V2","f":0.2833,"v":9.0e-11},{"s":"V2","f":0.3,"v":7.5e-11},{"s":"V2","f":0.3167,"v":8.0e-11},{"s":"V2","f":0.3333,"v":8.5e-11},{"s":"V2","f":0.35,"v":8.0e-11},{"s":"V2","f":0.3667,"v":7.5e-11},{"s":"V2","f":0.3833,"v":7.0e-11},{"s":"V2","f":0.4,"v":6.5e-11},{"s":"V2","f":0.4167,"v":5.5e-11},{"s":"V2","f":0.4333,"v":6.2e-11},{"s":"V2","f":0.45,"v":6.5e-11},{"s":"V2","f":0.4667,"v":6.4e-11},{"s":"V2","f":0.5,"v":6.5e-11},{"s":"V2","f":0.527,"v":5.8e-11},{"s":"V2","f":0.56,"v":5.0e-11},{"s":"V2","f":0.6,"v":4.6e-11},{"s":"V2","f":0.632,"v":4.7e-11},{"s":"V2","f":0.659,"v":4.0e-11},{"s":"V2","f":0.707,"v":3.6e-11},{"s":"V2","f":0.75,"v":3.53e-11},{"s":"V2","f":0.798,"v":3.13e-11},{"s":"V2","f":0.85,"v":3.33e-11},{"s":"V2","f":0.903,"v":3.33e-11},{"s":"V2","f":0.96,"v":2.63e-11},{"s":"V2","f":1.04,"v":2.07e-11},{"s":"V2","f":1.108,"v":2.63e-11},{"s":"V2","f":1.2,"v":3.13e-11},{"s":"V2","f":1.3,"v":3.74e-11},{"s":"V2","f":1.39,"v":3.97e-11},{"s":"V2","f":1.473,"v":3.97e-11},{"s":"V2","f":1.6,"v":5.0e-11},{"s":"V2","f":1.73,"v":5.3e-11},{"s":"V2","f":1.8,"v":7.6e-11},{"s":"V2","f":1.88,"v":7.2e-11},{"s":"V2","f":1.95,"v":6.0e-11},{"s":"V2","f":2.08,"v":9.1e-11},{"s":"V2","f":2.14,"v":1.02e-10},{"s":"V2","f":2.2,"v":1.09e-10},{"s":"V2","f":2.28,"v":8.6e-11},{"s":"V2","f":2.35,"v":1.22e-10},{"s":"V2","f":2.43,"v":1.12e-10},{"s":"V2","f":2.5,"v":1.3e-10},{"s":"V2","f":2.57,"v":1.38e-10},{"s":"V2","f":2.65,"v":1.3e-10},{"s":"V2","f":2.73,"v":1.09e-10},{"s":"V2","f":2.82,"v":1.22e-10},{"s":"V2","f":2.93,"v":1.18e-10},{"s":"V2","f":3.03,"v":9.7e-11},{"s":"V2","f":3.12,"v":1.09e-10},{"s":"V2","f":3.18,"v":1.02e-10},{"s":"V2","f":3.32,"v":8.6e-11},{"s":"V2","f":3.45,"v":7.2e-11},{"s":"V2","f":3.6,"v":5.0e-11},{"s":"V2","f":3.75,"v":4.75e-11},{"s":"V2","f":3.9,"v":4.2e-11},{"s":"V2","f":4.14,"v":3.97e-11},{"s":"V2","f":4.4,"v":4.2e-11},{"s":"V2","f":4.77,"v":4.2e-11},{"s":"V2","f":5.16,"v":4.2e-11},{"s":"V2","f":5.4,"v":4.75e-11},{"s":"V2","f":5.83,"v":6.8e-11},{"s":"V2","f":6.33,"v":6.0e-11},{"s":"V2","f":6.72,"v":9.1e-11},{"s":"V2","f":7.17,"v":1.22e-10},{"s":"V2","f":7.38,"v":1.74e-10},{"s":"V2","f":7.55,"v":1.0e-10},{"s":"V2","f":7.7,"v":2.35e-10},{"s":"V2","f":7.95,"v":1.09e-10},{"s":"V2","f":8.38,"v":6.0e-11},{"s":"V2","f":8.9,"v":9.7e-11},{"s":"V2","f":9.3,"v":5.0e-11},{"s":"V2","f":9.64,"v":9.7e-11},{"s":"V2","f":10.3,"v":6.0e-11},{"s":"V2","f":11.2,"v":4.75e-11},{"s":"V2","f":11.9,"v":5.3e-11},{"s":"V2","f":12.45,"v":1.22e-10},{"s":"V2","f":13.1,"v":8.1e-11},{"s":"V2","f":13.6,"v":4.5e-11},{"s":"V2","f":14.3,"v":9.7e-11},{"s":"V2","f":14.9,"v":5.0e-11},{"s":"V2","f":15.7,"v":1.46e-10},{"s":"V2","f":16.1,"v":1.42e-10},{"s":"V2","f":16.45,"v":6.0e-11},{"s":"V2","f":17.2,"v":2.35e-10},{"s":"V2","f":17.6,"v":4.5e-11},{"s":"V2","f":18.2,"v":2.56e-10},{"s":"V2","f":18.7,"v":4.0e-11},{"s":"V2","f":19.0,"v":9.9e-11},{"s":"V2","f":19.8,"v":1.09e-10},{"s":"V2","f":20.4,"v":3.8e-11},{"s":"V2","f":21,"v":1.8e-10},{"s":"V2","f":21.6,"v":3.5e-11},{"s":"V2","f":22.4,"v":4.2e-11},{"s":"V2","f":24.0,"v":1.3e-10},{"s":"V2","f":24.5,"v":3.4e-11},{"s":"V2","f":25.9,"v":4.0e-11},{"s":"V2","f":27.1,"v":9.1e-11},{"s":"V2","f":27.8,"v":3.3e-11},{"s":"V2","f":29.3,"v":1.55e-10},{"s":"V2","f":29.8,"v":3.6e-11},{"s":"V2","f":31,"v":3.6e-11},{"s":"V2","f":34,"v":2.3e-11},{"s":"V2","f":37,"v":3.8e-11},{"s":"V2","f":41,"v":2.2e-11},{"s":"V2","f":45,"v":3.6e-11},{"s":"V2","f":50,"v":2.1e-11},{"s":"V2","f":55,"v":3.7e-11},{"s":"V2","f":60,"v":2.3e-11},{"s":"V2","f":66,"v":3.6e-11},{"s":"V2","f":72,"v":2.1e-11},{"s":"V2","f":80,"v":3.5e-11},{"s":"V2","f":88,"v":2.2e-11},{"s":"V2","f":96,"v":3.6e-11},{"s":"V2","f":105,"v":2.1e-11},{"s":"V2","f":115,"v":3.5e-11},{"s":"V2","f":125,"v":2.2e-11},{"s":"V2","f":135,"v":3.4e-11},{"s":"V2","f":140,"v":1.05e-10},{"s":"V2","f":142,"v":2.4e-11},{"s":"V2","f":155,"v":3.5e-11},{"s":"V2","f":170,"v":2.2e-11},{"s":"V2","f":185,"v":3.6e-11},{"s":"V2","f":200,"v":2.2e-11},
{"s":"V3","f":0.0167,"v":1.36e-9},{"s":"V3","f":0.0333,"v":4.2e-9},{"s":"V3","f":0.05,"v":6.25e-9},{"s":"V3","f":0.0667,"v":3.86e-9},{"s":"V3","f":0.0833,"v":2.29e-9},{"s":"V3","f":0.1,"v":1.06e-9},{"s":"V3","f":0.1167,"v":1.39e-9},{"s":"V3","f":0.1333,"v":1.09e-9},{"s":"V3","f":0.15,"v":8.7e-10},{"s":"V3","f":0.1667,"v":5.8e-10},{"s":"V3","f":0.1833,"v":4.6e-10},{"s":"V3","f":0.2,"v":4.4e-10},{"s":"V3","f":0.2167,"v":3.7e-10},{"s":"V3","f":0.2333,"v":2.45e-10},{"s":"V3","f":0.25,"v":1.4e-10},{"s":"V3","f":0.2667,"v":1.3e-10},{"s":"V3","f":0.2833,"v":1.13e-10},{"s":"V3","f":0.3,"v":9.0e-11},{"s":"V3","f":0.3167,"v":7.9e-11},{"s":"V3","f":0.3333,"v":9.4e-11},{"s":"V3","f":0.35,"v":8.5e-11},{"s":"V3","f":0.3667,"v":8.0e-11},{"s":"V3","f":0.3833,"v":7.5e-11},{"s":"V3","f":0.4,"v":7.0e-11},{"s":"V3","f":0.4167,"v":5.5e-11},{"s":"V3","f":0.4333,"v":6.5e-11},{"s":"V3","f":0.45,"v":6.0e-11},{"s":"V3","f":0.4667,"v":6.5e-11},{"s":"V3","f":0.5,"v":6.3e-11},{"s":"V3","f":0.527,"v":6.0e-11},{"s":"V3","f":0.56,"v":5.5e-11},{"s":"V3","f":0.6,"v":4.2e-11},{"s":"V3","f":0.632,"v":4.3e-11},{"s":"V3","f":0.659,"v":4.2e-11},{"s":"V3","f":0.707,"v":3.13e-11},{"s":"V3","f":0.737,"v":3.33e-11},{"s":"V3","f":0.78,"v":3.13e-11},{"s":"V3","f":0.832,"v":2.95e-11},{"s":"V3","f":0.885,"v":3.13e-11},{"s":"V3","f":0.94,"v":2.63e-11},{"s":"V3","f":0.99,"v":2.33e-11},{"s":"V3","f":1.063,"v":2.48e-11},{"s":"V3","f":1.131,"v":2.63e-11},{"s":"V3","f":1.2,"v":2.33e-11},{"s":"V3","f":1.25,"v":2.63e-11},{"s":"V3","f":1.3,"v":3.33e-11},{"s":"V3","f":1.39,"v":2.95e-11},{"s":"V3","f":1.47,"v":2.95e-11},{"s":"V3","f":1.565,"v":2.63e-11},{"s":"V3","f":1.67,"v":3.33e-11},{"s":"V3","f":1.8,"v":2.63e-11},{"s":"V3","f":1.91,"v":2.07e-11},{"s":"V3","f":1.95,"v":3.74e-11},{"s":"V3","f":2.12,"v":3.53e-11},{"s":"V3","f":2.3,"v":3.33e-11},{"s":"V3","f":2.5,"v":3.33e-11},{"s":"V3","f":2.7,"v":3.33e-11},{"s":"V3","f":2.93,"v":3.13e-11},{"s":"V3","f":3.12,"v":2.07e-11},{"s":"V3","f":3.32,"v":3.53e-11},{"s":"V3","f":3.6,"v":3.13e-11},{"s":"V3","f":3.98,"v":3.74e-11},{"s":"V3","f":4.4,"v":3.53e-11},{"s":"V3","f":4.9,"v":3.74e-11},{"s":"V3","f":5.3,"v":5.7e-11},{"s":"V3","f":5.6,"v":4.2e-11},{"s":"V3","f":6.07,"v":5.7e-11},{"s":"V3","f":6.6,"v":6.0e-11},{"s":"V3","f":7.17,"v":1.09e-10},{"s":"V3","f":7.38,"v":1.46e-10},{"s":"V3","f":7.55,"v":8.0e-11},{"s":"V3","f":7.7,"v":2.35e-10},{"s":"V3","f":7.85,"v":1.96e-10},{"s":"V3","f":8.05,"v":4.75e-11},{"s":"V3","f":8.38,"v":8.1e-11},{"s":"V3","f":9.0,"v":9.7e-11},{"s":"V3","f":9.5,"v":3.74e-11},{"s":"V3","f":9.8,"v":9.7e-11},{"s":"V3","f":10.3,"v":4.2e-11},{"s":"V3","f":11.2,"v":3.74e-11},{"s":"V3","f":11.9,"v":4.2e-11},{"s":"V3","f":12.45,"v":1.22e-10},{"s":"V3","f":12.96,"v":6.0e-11},{"s":"V3","f":13.2,"v":6.8e-11},{"s":"V3","f":14.0,"v":5.3e-11},{"s":"V3","f":14.3,"v":7.6e-11},{"s":"V3","f":14.6,"v":9.7e-11},{"s":"V3","f":15.3,"v":4.2e-11},{"s":"V3","f":16.1,"v":1.22e-10},{"s":"V3","f":16.5,"v":3.33e-11},{"s":"V3","f":17.2,"v":2.35e-10},{"s":"V3","f":17.5,"v":4.2e-11},{"s":"V3","f":18.2,"v":2.56e-10},{"s":"V3","f":18.7,"v":4.75e-11},{"s":"V3","f":19.0,"v":9.1e-11},{"s":"V3","f":19.8,"v":1.09e-10},{"s":"V3","f":20.4,"v":2.95e-11},{"s":"V3","f":21,"v":1.8e-10},{"s":"V3","f":21.6,"v":3.33e-11},{"s":"V3","f":22.4,"v":3.74e-11},{"s":"V3","f":24.0,"v":1.12e-10},{"s":"V3","f":24.5,"v":2.95e-11},{"s":"V3","f":25.9,"v":3.33e-11},{"s":"V3","f":27.1,"v":6.4e-11},{"s":"V3","f":27.8,"v":2.95e-11},{"s":"V3","f":29.3,"v":2.56e-10},{"s":"V3","f":29.6,"v":1.74e-10},{"s":"V3","f":30.2,"v":3.33e-11},{"s":"V3","f":30.7,"v":5.3e-11},{"s":"V3","f":31.5,"v":2.79e-11},{"s":"V3","f":33.3,"v":3.53e-11},{"s":"V3","f":35.9,"v":2.63e-11},{"s":"V3","f":38.7,"v":3.74e-11},{"s":"V3","f":41.7,"v":2.48e-11},{"s":"V3","f":44.9,"v":3.53e-11},{"s":"V3","f":46.6,"v":5.7e-11},{"s":"V3","f":48.4,"v":2.63e-11},{"s":"V3","f":52.1,"v":3.74e-11},{"s":"V3","f":56.1,"v":2.48e-11},{"s":"V3","f":58.6,"v":3.53e-11},{"s":"V3","f":60,"v":1.34e-10},{"s":"V3","f":60.9,"v":3.33e-11},{"s":"V3","f":65.6,"v":2.48e-11},{"s":"V3","f":70.6,"v":3.74e-11},{"s":"V3","f":76.1,"v":2.63e-11},{"s":"V3","f":81.9,"v":3.53e-11},{"s":"V3","f":88.2,"v":2.48e-11},{"s":"V3","f":95,"v":3.74e-11},{"s":"V3","f":102.3,"v":2.63e-11},{"s":"V3","f":110,"v":3.53e-11},{"s":"V3","f":118.6,"v":2.48e-11},{"s":"V3","f":127.7,"v":3.74e-11},{"s":"V3","f":137.5,"v":2.63e-11},{"s":"V3","f":140,"v":5.0e-11},{"s":"V3","f":149.8,"v":2.95e-11},{"s":"V3","f":159.9,"v":3.74e-11},{"s":"V3","f":172,"v":2.48e-11},{"s":"V3","f":185.3,"v":3.53e-11},{"s":"V3","f":199.5,"v":2.63e-11},
{"s":"ADE","f":0.01,"v":7.6e-10},{"s":"ADE","f":0.1,"v":1.52e-10},{"s":"ADE","f":0.7,"v":6.0e-11},{"s":"ADE","f":100,"v":6.0e-11}
]
},
"vconcat":[{
 "title":{"text":"calibration only >10hz","orient":"bottom","fontSize":17,"offset":21,"dx":-36,"anchor":"middle"},
 "vconcat":[{
  "title":{"text":"/opt/rtcds/userapps/trunk/sys/h1/scripts/BSC_cps_spectra.py","orient":"right","fontSize":16,"angle":-90,"baseline":"middle","offset":108,"dx":-56,"anchor":"middle"},
  "spacing":20,
  "resolve":{"scale":{"color":"independent"}},
  "vconcat":[
   {
    "width":1860,"height":559,
    "title":{"text":"ITMY_ST1","fontSize":28,"offset":2,"anchor":"middle","frame":"group"},
    "data":{"name":"st1"},
    "mark":{"type":"line","strokeWidth":3.8,"clip":true,"strokeJoin":"round"},
    "encoding":{
     "x":{"field":"f","type":"quantitative","scale":{"type":"log","domain":[0.01,200],"nice":false},
      "axis":{"title":"Freq (hz)","values":[0.01,0.02,0.03,0.04,0.05,0.06,0.07,0.08,0.09,0.1,0.2,0.3,0.4,0.5,0.6,0.7,0.8,0.9,1,2,3,4,5,6,7,8,9,10,20,30,40,50,60,70,80,90,100,200],"labelExpr":"datum.value==0.01?'10⁻²':datum.value==0.1?'10⁻¹':datum.value==1?'10⁰':datum.value==10?'10¹':datum.value==100?'10²':''","labelFlush":false,"labelPadding":6,"titlePadding":8}},
     "y":{"field":"v","type":"quantitative","scale":{"type":"log","domain":[4.8e-11,2.47e-7],"nice":false},
      "axis":{"title":"m/rthz","values":[5e-11,6e-11,7e-11,8e-11,9e-11,1e-10,2e-10,3e-10,4e-10,5e-10,6e-10,7e-10,8e-10,9e-10,1e-9,2e-9,3e-9,4e-9,5e-9,6e-9,7e-9,8e-9,9e-9,1e-8,2e-8,3e-8,4e-8,5e-8,6e-8,7e-8,8e-8,9e-8,1e-7,2e-7],"labelExpr":"datum.value==1e-7?'10⁻⁷':datum.value==1e-8?'10⁻⁸':datum.value==1e-9?'10⁻⁹':datum.value==1e-10?'10⁻¹⁰':datum.value==1e-11?'10⁻¹¹':''","labelPadding":5,"titlePadding":3}},
     "color":{"field":"s","type":"nominal","scale":{"domain":["H1","H2","H3","V1","V2","V3","ADE"],"range":["#1f77b4","#ff7f0e","#2ca02c","#d62728","#9467bd","#8c564b","#e377c2"]},
      "legend":{"title":null,"labelExpr":"datum.label=='ADE'?'ADE 1mm noise':'ITMY_ST1_CPSINF_'+datum.label"}}
    }
   },
   {
    "width":1860,"height":559,
    "title":{"text":"ITMY_ST2","fontSize":28,"offset":2,"anchor":"middle","frame":"group"},
    "data":{"name":"st2"},
    "mark":{"type":"line","strokeWidth":3.8,"clip":true,"strokeJoin":"round"},
    "encoding":{
     "x":{"field":"f","type":"quantitative","scale":{"type":"log","domain":[0.01,200],"nice":false},
      "axis":{"title":"Freq (hz)","values":[0.01,0.02,0.03,0.04,0.05,0.06,0.07,0.08,0.09,0.1,0.2,0.3,0.4,0.5,0.6,0.7,0.8,0.9,1,2,3,4,5,6,7,8,9,10,20,30,40,50,60,70,80,90,100,200],"labelExpr":"datum.value==0.01?'10⁻²':datum.value==0.1?'10⁻¹':datum.value==1?'10⁰':datum.value==10?'10¹':datum.value==100?'10²':''","labelFlush":false,"labelPadding":6,"titlePadding":8}},
     "y":{"field":"v","type":"quantitative","scale":{"type":"log","domain":[3.74e-12,7.66e-8],"nice":false},
      "axis":{"title":"m/rthz","values":[4e-12,5e-12,6e-12,7e-12,8e-12,9e-12,1e-11,2e-11,3e-11,4e-11,5e-11,6e-11,7e-11,8e-11,9e-11,1e-10,2e-10,3e-10,4e-10,5e-10,6e-10,7e-10,8e-10,9e-10,1e-9,2e-9,3e-9,4e-9,5e-9,6e-9,7e-9,8e-9,9e-9,1e-8,2e-8,3e-8,4e-8,5e-8,6e-8,7e-8],"labelExpr":"datum.value==1e-7?'10⁻⁷':datum.value==1e-8?'10⁻⁸':datum.value==1e-9?'10⁻⁹':datum.value==1e-10?'10⁻¹⁰':datum.value==1e-11?'10⁻¹¹':''","labelPadding":5,"titlePadding":3}},
     "color":{"field":"s","type":"nominal","scale":{"domain":["H1","H2","H3","V1","V2","V3","ADE"],"range":["#1f77b4","#ff7f0e","#2ca02c","#d62728","#9467bd","#8c564b","#e377c2"]},
      "legend":{"title":null,"labelExpr":"datum.label=='ADE'?'ADE .25mm noise':'ITMY_ST2_CPSINF_'+datum.label"}}
    }
   }
  ]
 }]
}]
}
